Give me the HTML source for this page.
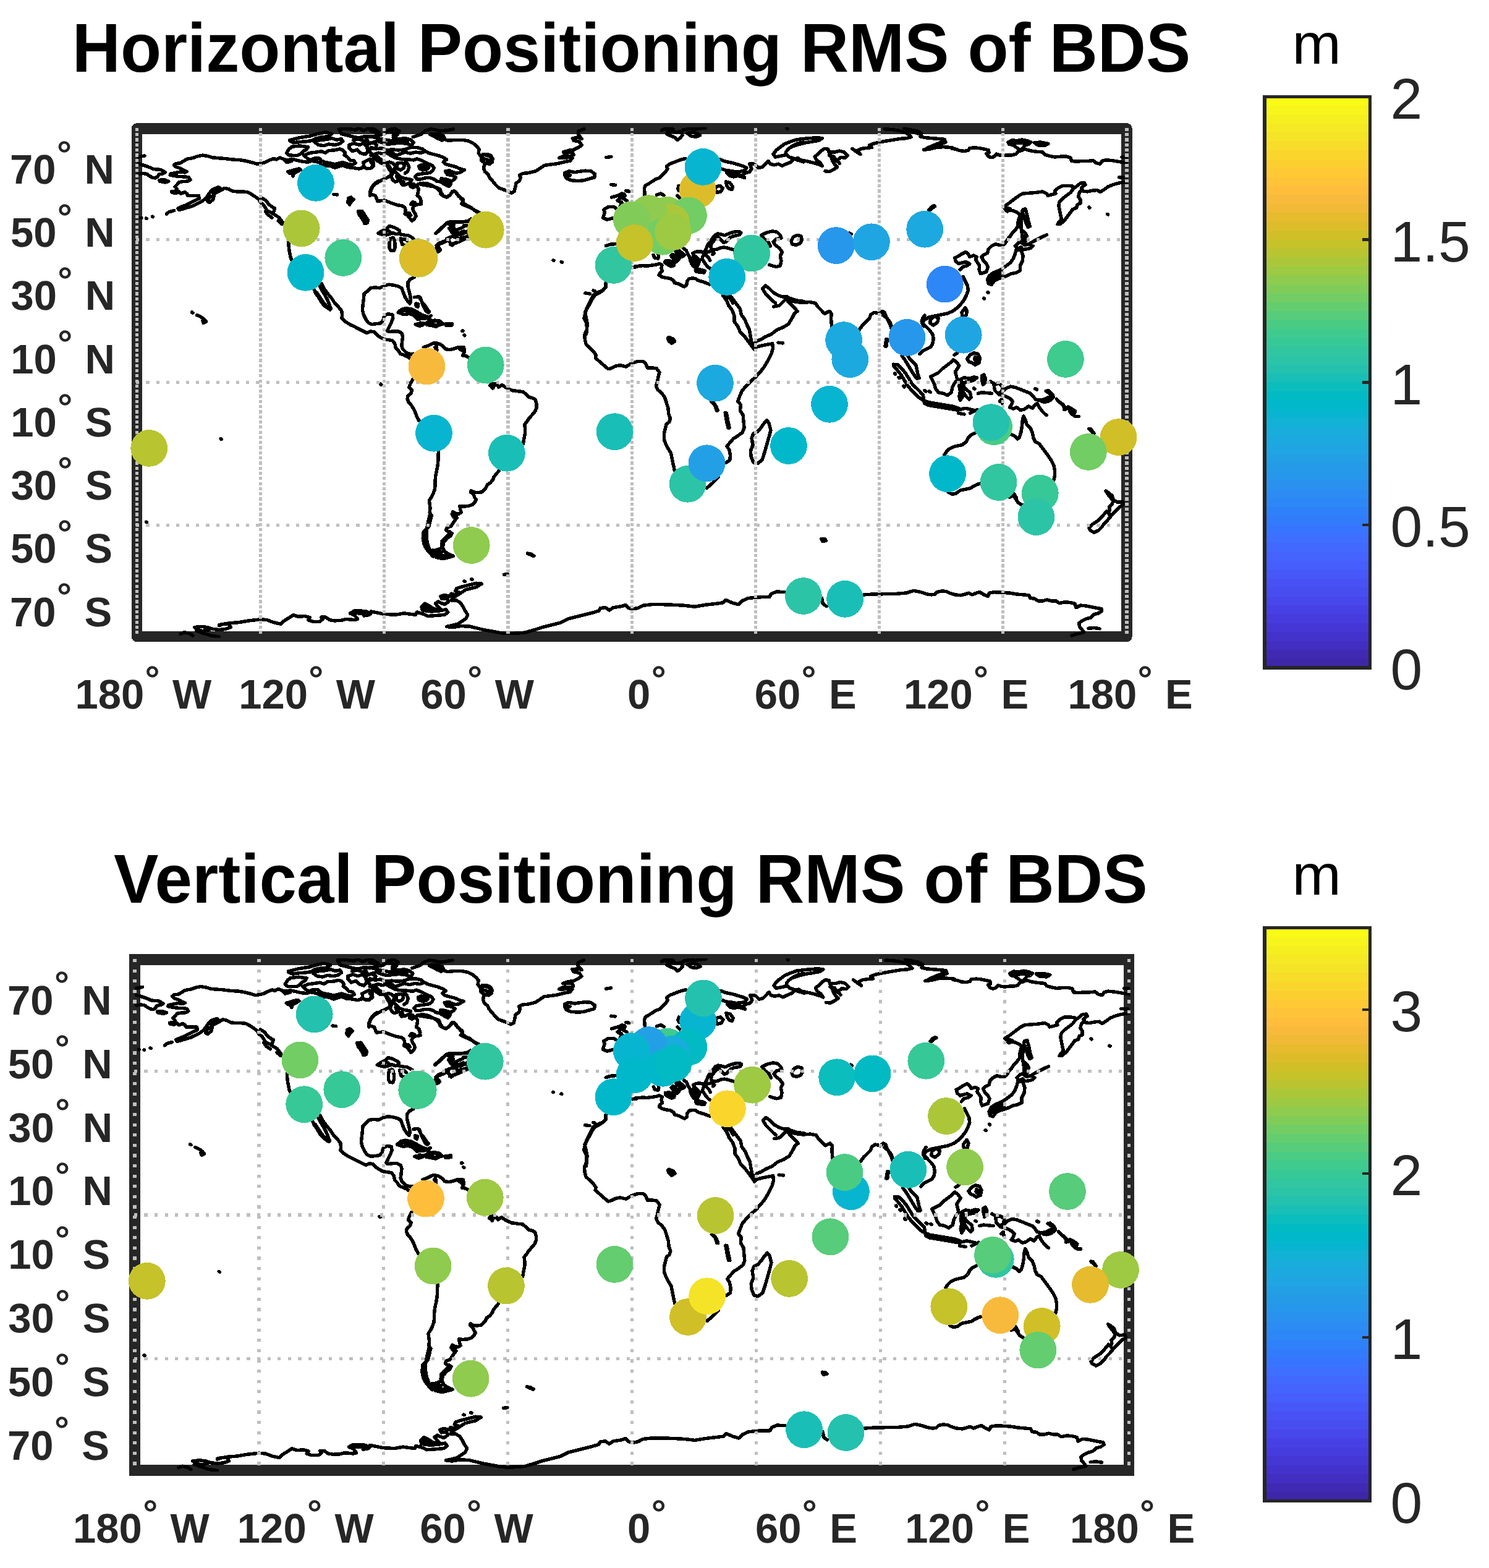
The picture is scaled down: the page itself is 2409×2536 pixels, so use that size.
<!DOCTYPE html>
<html lang="en"><head><meta charset="utf-8"><title>Positioning RMS of BDS</title>
<style>html,body{margin:0;padding:0;background:#fff}svg{display:block}text{font-family:'Liberation Sans', Arial, Helvetica, sans-serif;white-space:pre}</style></head><body>
<svg xmlns="http://www.w3.org/2000/svg" width="2409" height="2536" viewBox="0 0 2409 2536" shape-rendering="crispEdges" text-rendering="geometricPrecision">
<defs>
<linearGradient id="pg0" x1="0" y1="1" x2="0" y2="0">
<stop offset="0.00000" stop-color="#3e26a8"/><stop offset="0.01562" stop-color="#3e26a8"/>
<stop offset="0.01562" stop-color="#402ab4"/><stop offset="0.03125" stop-color="#402ab4"/>
<stop offset="0.03125" stop-color="#422ec0"/><stop offset="0.04688" stop-color="#422ec0"/>
<stop offset="0.04688" stop-color="#4332cb"/><stop offset="0.06250" stop-color="#4332cb"/>
<stop offset="0.06250" stop-color="#4537d5"/><stop offset="0.07812" stop-color="#4537d5"/>
<stop offset="0.07812" stop-color="#463cde"/><stop offset="0.09375" stop-color="#463cde"/>
<stop offset="0.09375" stop-color="#4741e5"/><stop offset="0.10938" stop-color="#4741e5"/>
<stop offset="0.10938" stop-color="#4747eb"/><stop offset="0.12500" stop-color="#4747eb"/>
<stop offset="0.12500" stop-color="#484df0"/><stop offset="0.14062" stop-color="#484df0"/>
<stop offset="0.14062" stop-color="#4852f4"/><stop offset="0.15625" stop-color="#4852f4"/>
<stop offset="0.15625" stop-color="#4758f8"/><stop offset="0.17188" stop-color="#4758f8"/>
<stop offset="0.17188" stop-color="#465efb"/><stop offset="0.18750" stop-color="#465efb"/>
<stop offset="0.18750" stop-color="#4563fd"/><stop offset="0.20312" stop-color="#4563fd"/>
<stop offset="0.20312" stop-color="#4269fe"/><stop offset="0.21875" stop-color="#4269fe"/>
<stop offset="0.21875" stop-color="#3e6fff"/><stop offset="0.23438" stop-color="#3e6fff"/>
<stop offset="0.23438" stop-color="#3875fe"/><stop offset="0.25000" stop-color="#3875fe"/>
<stop offset="0.25000" stop-color="#327cfc"/><stop offset="0.26562" stop-color="#327cfc"/>
<stop offset="0.26562" stop-color="#2f81fa"/><stop offset="0.28125" stop-color="#2f81fa"/>
<stop offset="0.28125" stop-color="#2e87f7"/><stop offset="0.29688" stop-color="#2e87f7"/>
<stop offset="0.29688" stop-color="#2d8cf3"/><stop offset="0.31250" stop-color="#2d8cf3"/>
<stop offset="0.31250" stop-color="#2b91ef"/><stop offset="0.32812" stop-color="#2b91ef"/>
<stop offset="0.32812" stop-color="#2797eb"/><stop offset="0.34375" stop-color="#2797eb"/>
<stop offset="0.34375" stop-color="#259be8"/><stop offset="0.35938" stop-color="#259be8"/>
<stop offset="0.35938" stop-color="#23a0e5"/><stop offset="0.37500" stop-color="#23a0e5"/>
<stop offset="0.37500" stop-color="#20a5e3"/><stop offset="0.39062" stop-color="#20a5e3"/>
<stop offset="0.39062" stop-color="#1ca9df"/><stop offset="0.40625" stop-color="#1ca9df"/>
<stop offset="0.40625" stop-color="#18addb"/><stop offset="0.42188" stop-color="#18addb"/>
<stop offset="0.42188" stop-color="#12b1d6"/><stop offset="0.43750" stop-color="#12b1d6"/>
<stop offset="0.43750" stop-color="#08b5d0"/><stop offset="0.45312" stop-color="#08b5d0"/>
<stop offset="0.45312" stop-color="#01b8ca"/><stop offset="0.46875" stop-color="#01b8ca"/>
<stop offset="0.46875" stop-color="#02bac3"/><stop offset="0.48438" stop-color="#02bac3"/>
<stop offset="0.48438" stop-color="#0bbdbd"/><stop offset="0.50000" stop-color="#0bbdbd"/>
<stop offset="0.50000" stop-color="#19bfb6"/><stop offset="0.51562" stop-color="#19bfb6"/>
<stop offset="0.51562" stop-color="#24c1ae"/><stop offset="0.53125" stop-color="#24c1ae"/>
<stop offset="0.53125" stop-color="#2cc4a7"/><stop offset="0.54688" stop-color="#2cc4a7"/>
<stop offset="0.54688" stop-color="#31c69f"/><stop offset="0.56250" stop-color="#31c69f"/>
<stop offset="0.56250" stop-color="#37c897"/><stop offset="0.57812" stop-color="#37c897"/>
<stop offset="0.57812" stop-color="#3fca8e"/><stop offset="0.59375" stop-color="#3fca8e"/>
<stop offset="0.59375" stop-color="#4acb84"/><stop offset="0.60938" stop-color="#4acb84"/>
<stop offset="0.60938" stop-color="#57cc7a"/><stop offset="0.62500" stop-color="#57cc7a"/>
<stop offset="0.62500" stop-color="#64cd6f"/><stop offset="0.64062" stop-color="#64cd6f"/>
<stop offset="0.64062" stop-color="#72cd64"/><stop offset="0.65625" stop-color="#72cd64"/>
<stop offset="0.65625" stop-color="#81cc59"/><stop offset="0.67188" stop-color="#81cc59"/>
<stop offset="0.67188" stop-color="#8fcb4e"/><stop offset="0.68750" stop-color="#8fcb4e"/>
<stop offset="0.68750" stop-color="#9dc943"/><stop offset="0.70312" stop-color="#9dc943"/>
<stop offset="0.70312" stop-color="#abc739"/><stop offset="0.71875" stop-color="#abc739"/>
<stop offset="0.71875" stop-color="#b9c431"/><stop offset="0.73438" stop-color="#b9c431"/>
<stop offset="0.73438" stop-color="#c5c22a"/><stop offset="0.75000" stop-color="#c5c22a"/>
<stop offset="0.75000" stop-color="#d1bf27"/><stop offset="0.76562" stop-color="#d1bf27"/>
<stop offset="0.76562" stop-color="#dcbd29"/><stop offset="0.78125" stop-color="#dcbd29"/>
<stop offset="0.78125" stop-color="#e6bb2d"/><stop offset="0.79688" stop-color="#e6bb2d"/>
<stop offset="0.79688" stop-color="#f0ba36"/><stop offset="0.81250" stop-color="#f0ba36"/>
<stop offset="0.81250" stop-color="#f8ba3d"/><stop offset="0.82812" stop-color="#f8ba3d"/>
<stop offset="0.82812" stop-color="#febe3c"/><stop offset="0.84375" stop-color="#febe3c"/>
<stop offset="0.84375" stop-color="#fec338"/><stop offset="0.85938" stop-color="#fec338"/>
<stop offset="0.85938" stop-color="#fec934"/><stop offset="0.87500" stop-color="#fec934"/>
<stop offset="0.87500" stop-color="#fccf30"/><stop offset="0.89062" stop-color="#fccf30"/>
<stop offset="0.89062" stop-color="#fad62d"/><stop offset="0.90625" stop-color="#fad62d"/>
<stop offset="0.90625" stop-color="#f7dc2a"/><stop offset="0.92188" stop-color="#f7dc2a"/>
<stop offset="0.92188" stop-color="#f5e327"/><stop offset="0.93750" stop-color="#f5e327"/>
<stop offset="0.93750" stop-color="#f5e924"/><stop offset="0.95312" stop-color="#f5e924"/>
<stop offset="0.95312" stop-color="#f6ef20"/><stop offset="0.96875" stop-color="#f6ef20"/>
<stop offset="0.96875" stop-color="#f7f51b"/><stop offset="0.98438" stop-color="#f7f51b"/>
<stop offset="0.98438" stop-color="#f9fb15"/><stop offset="1.00000" stop-color="#f9fb15"/>
</linearGradient>
<linearGradient id="pg1" x1="0" y1="1" x2="0" y2="0">
<stop offset="0.00000" stop-color="#3e26a8"/><stop offset="0.01562" stop-color="#3e26a8"/>
<stop offset="0.01562" stop-color="#402ab4"/><stop offset="0.03125" stop-color="#402ab4"/>
<stop offset="0.03125" stop-color="#422ec0"/><stop offset="0.04688" stop-color="#422ec0"/>
<stop offset="0.04688" stop-color="#4332cb"/><stop offset="0.06250" stop-color="#4332cb"/>
<stop offset="0.06250" stop-color="#4537d5"/><stop offset="0.07812" stop-color="#4537d5"/>
<stop offset="0.07812" stop-color="#463cde"/><stop offset="0.09375" stop-color="#463cde"/>
<stop offset="0.09375" stop-color="#4741e5"/><stop offset="0.10938" stop-color="#4741e5"/>
<stop offset="0.10938" stop-color="#4747eb"/><stop offset="0.12500" stop-color="#4747eb"/>
<stop offset="0.12500" stop-color="#484df0"/><stop offset="0.14062" stop-color="#484df0"/>
<stop offset="0.14062" stop-color="#4852f4"/><stop offset="0.15625" stop-color="#4852f4"/>
<stop offset="0.15625" stop-color="#4758f8"/><stop offset="0.17188" stop-color="#4758f8"/>
<stop offset="0.17188" stop-color="#465efb"/><stop offset="0.18750" stop-color="#465efb"/>
<stop offset="0.18750" stop-color="#4563fd"/><stop offset="0.20312" stop-color="#4563fd"/>
<stop offset="0.20312" stop-color="#4269fe"/><stop offset="0.21875" stop-color="#4269fe"/>
<stop offset="0.21875" stop-color="#3e6fff"/><stop offset="0.23438" stop-color="#3e6fff"/>
<stop offset="0.23438" stop-color="#3875fe"/><stop offset="0.25000" stop-color="#3875fe"/>
<stop offset="0.25000" stop-color="#327cfc"/><stop offset="0.26562" stop-color="#327cfc"/>
<stop offset="0.26562" stop-color="#2f81fa"/><stop offset="0.28125" stop-color="#2f81fa"/>
<stop offset="0.28125" stop-color="#2e87f7"/><stop offset="0.29688" stop-color="#2e87f7"/>
<stop offset="0.29688" stop-color="#2d8cf3"/><stop offset="0.31250" stop-color="#2d8cf3"/>
<stop offset="0.31250" stop-color="#2b91ef"/><stop offset="0.32812" stop-color="#2b91ef"/>
<stop offset="0.32812" stop-color="#2797eb"/><stop offset="0.34375" stop-color="#2797eb"/>
<stop offset="0.34375" stop-color="#259be8"/><stop offset="0.35938" stop-color="#259be8"/>
<stop offset="0.35938" stop-color="#23a0e5"/><stop offset="0.37500" stop-color="#23a0e5"/>
<stop offset="0.37500" stop-color="#20a5e3"/><stop offset="0.39062" stop-color="#20a5e3"/>
<stop offset="0.39062" stop-color="#1ca9df"/><stop offset="0.40625" stop-color="#1ca9df"/>
<stop offset="0.40625" stop-color="#18addb"/><stop offset="0.42188" stop-color="#18addb"/>
<stop offset="0.42188" stop-color="#12b1d6"/><stop offset="0.43750" stop-color="#12b1d6"/>
<stop offset="0.43750" stop-color="#08b5d0"/><stop offset="0.45312" stop-color="#08b5d0"/>
<stop offset="0.45312" stop-color="#01b8ca"/><stop offset="0.46875" stop-color="#01b8ca"/>
<stop offset="0.46875" stop-color="#02bac3"/><stop offset="0.48438" stop-color="#02bac3"/>
<stop offset="0.48438" stop-color="#0bbdbd"/><stop offset="0.50000" stop-color="#0bbdbd"/>
<stop offset="0.50000" stop-color="#19bfb6"/><stop offset="0.51562" stop-color="#19bfb6"/>
<stop offset="0.51562" stop-color="#24c1ae"/><stop offset="0.53125" stop-color="#24c1ae"/>
<stop offset="0.53125" stop-color="#2cc4a7"/><stop offset="0.54688" stop-color="#2cc4a7"/>
<stop offset="0.54688" stop-color="#31c69f"/><stop offset="0.56250" stop-color="#31c69f"/>
<stop offset="0.56250" stop-color="#37c897"/><stop offset="0.57812" stop-color="#37c897"/>
<stop offset="0.57812" stop-color="#3fca8e"/><stop offset="0.59375" stop-color="#3fca8e"/>
<stop offset="0.59375" stop-color="#4acb84"/><stop offset="0.60938" stop-color="#4acb84"/>
<stop offset="0.60938" stop-color="#57cc7a"/><stop offset="0.62500" stop-color="#57cc7a"/>
<stop offset="0.62500" stop-color="#64cd6f"/><stop offset="0.64062" stop-color="#64cd6f"/>
<stop offset="0.64062" stop-color="#72cd64"/><stop offset="0.65625" stop-color="#72cd64"/>
<stop offset="0.65625" stop-color="#81cc59"/><stop offset="0.67188" stop-color="#81cc59"/>
<stop offset="0.67188" stop-color="#8fcb4e"/><stop offset="0.68750" stop-color="#8fcb4e"/>
<stop offset="0.68750" stop-color="#9dc943"/><stop offset="0.70312" stop-color="#9dc943"/>
<stop offset="0.70312" stop-color="#abc739"/><stop offset="0.71875" stop-color="#abc739"/>
<stop offset="0.71875" stop-color="#b9c431"/><stop offset="0.73438" stop-color="#b9c431"/>
<stop offset="0.73438" stop-color="#c5c22a"/><stop offset="0.75000" stop-color="#c5c22a"/>
<stop offset="0.75000" stop-color="#d1bf27"/><stop offset="0.76562" stop-color="#d1bf27"/>
<stop offset="0.76562" stop-color="#dcbd29"/><stop offset="0.78125" stop-color="#dcbd29"/>
<stop offset="0.78125" stop-color="#e6bb2d"/><stop offset="0.79688" stop-color="#e6bb2d"/>
<stop offset="0.79688" stop-color="#f0ba36"/><stop offset="0.81250" stop-color="#f0ba36"/>
<stop offset="0.81250" stop-color="#f8ba3d"/><stop offset="0.82812" stop-color="#f8ba3d"/>
<stop offset="0.82812" stop-color="#febe3c"/><stop offset="0.84375" stop-color="#febe3c"/>
<stop offset="0.84375" stop-color="#fec338"/><stop offset="0.85938" stop-color="#fec338"/>
<stop offset="0.85938" stop-color="#fec934"/><stop offset="0.87500" stop-color="#fec934"/>
<stop offset="0.87500" stop-color="#fccf30"/><stop offset="0.89062" stop-color="#fccf30"/>
<stop offset="0.89062" stop-color="#fad62d"/><stop offset="0.90625" stop-color="#fad62d"/>
<stop offset="0.90625" stop-color="#f7dc2a"/><stop offset="0.92188" stop-color="#f7dc2a"/>
<stop offset="0.92188" stop-color="#f5e327"/><stop offset="0.93750" stop-color="#f5e327"/>
<stop offset="0.93750" stop-color="#f5e924"/><stop offset="0.95312" stop-color="#f5e924"/>
<stop offset="0.95312" stop-color="#f6ef20"/><stop offset="0.96875" stop-color="#f6ef20"/>
<stop offset="0.96875" stop-color="#f7f51b"/><stop offset="0.98438" stop-color="#f7f51b"/>
<stop offset="0.98438" stop-color="#f9fb15"/><stop offset="1.00000" stop-color="#f9fb15"/>
</linearGradient>
</defs>
<rect width="2409" height="2536" fill="#fff"/>
<g id="map1">
<rect x="221.45" y="207.85" width="1601.55" height="821.65" fill="#fff" stroke="#262626" stroke-width="17.40" stroke-linejoin="round"/>
<clipPath id="clip0"><rect x="219.45" y="205.85" width="1605.55" height="825.65"/></clipPath>
<path clip-path="url(#clip0)" d="M224.0,264.8L234.4,267.9L242.4,270.8L248.0,273.5L254.4,274.0L260.0,274.4L265.6,277.6L267.2,278.8L263.2,280.8L256.8,282.0L255.2,285.5L251.2,287.9L246.4,287.2L241.6,284.4L237.6,281.5L232.0,280.5L224.0,281.5 M224.0,254.0L229.6,252.7L233.9,252.0 M257.9,291.4L265.6,290.7L272.8,293.3L267.2,294.9L258.8,293.3L257.9,291.4 M471.9,260.4L463.9,262.8L459.1,257.5L452.7,255.1L447.1,258.0L443.1,256.4L436.7,258.8L428.7,262.8L421.5,264.4L415.9,265.2L407.9,262.8L398.3,260.4L388.7,258.8L375.9,258.0L363.1,256.4L351.9,255.6L343.9,254.8L335.9,252.4L327.9,251.2L319.9,252.7L311.9,255.6L302.3,257.2L295.9,261.2L291.2,263.9L284.8,264.4L281.6,266.8L284.8,270.0L292.0,272.4L297.5,275.6L302.3,277.6L299.1,278.9L291.2,278.0L283.2,279.6L276.0,281.2L275.2,283.1L281.6,284.4L289.6,285.6L299.1,285.9L305.5,286.9L307.9,290.7L303.9,293.1L295.9,293.6L289.6,294.7L286.4,298.7L283.2,301.9L286.4,305.9L284.0,309.1L277.6,309.6L278.4,311.5L284.8,312.3L289.6,309.9L292.8,313.1L299.1,310.7L302.3,313.1L303.9,316.3L311.9,316.3L321.5,316.3L322.3,321.1L318.3,322.7L311.9,325.9L305.5,329.1L299.1,332.3L292.8,334.7L288.0,337.1L289.6,339.5L295.9,337.9L303.9,335.5L311.9,333.1L318.3,329.9L326.3,325.9L332.7,321.1L336.7,315.5L340.7,309.9L345.5,305.5L353.5,302.7L355.9,304.3L350.3,309.1L344.7,312.8L348.7,312.3L356.7,308.3L363.1,304.3L369.5,305.5L375.9,309.1L383.9,309.9L391.9,309.9L400.7,310.7L406.3,313.9L412.7,317.9L419.1,322.7L421.5,327.5L427.1,332.3L431.9,340.3L438.3,343.5L444.7,347.5L451.1,351.5L455.9,357.9L459.9,363.5 M335.9,325.9L339.1,318.7L346.3,316.3L344.7,322.7L339.1,327.5L335.9,325.9 M423.9,320.3L430.3,324.3L435.1,330.7L441.5,335.5L444.7,337.1L443.1,341.9 M429.5,341.9L433.5,347.5L439.9,351.8 M450.3,357.1L455.9,362.4 M466.7,391.5L467.4,401.1L468.7,409.1L470.3,417.1L472.2,421.1 M269.6,345.9L273.6,342.7L281.6,340.6 M228.0,352.3L228.8,352.6 M236.5,353.1L237.1,353.4 M246.4,350.2L247.3,350.7 M460.0,258.0L466.4,258.9L471.5,257.2L479.2,258.9L488.1,261.0L498.4,262.3L504.1,260.0L511.2,261.5L516.9,262.8L520.1,266.1L526.5,267.9L534.2,268.4L541.9,271.5L548.3,269.2L554.7,267.6L562.3,270.5L570.0,271.2L580.3,273.0L586.0,271.7L588.6,267.4L587.9,262.5 M587.9,262.5L593.0,260.0L598.8,257.2L603.9,261.9L604.6,268.3L599.4,272.5L593.0,272.8L588.6,269.6 M492.0,251.3L500.9,247.4L511.2,246.1L520.1,244.9L526.5,247.2L531.6,243.6L541.9,242.8L549.6,241.0L554.7,242.7L558.5,247.2L557.2,251.0L562.3,254.2L566.2,258.9L572.6,260.0L575.1,263.8L570.0,266.4L562.3,265.1L554.7,262.5L549.6,263.8L541.9,265.7L534.2,263.8L526.5,262.5L520.1,260.0L516.3,256.1L508.6,256.1L502.2,258.7L497.1,256.1L492.0,251.3 M463.8,247.2L467.7,241.0L472.8,237.2L485.6,235.9L498.4,237.7L495.8,242.1L490.7,244.4L486.9,248.7L481.7,251.3L474.1,251.3L467.7,251.0L463.8,247.2 M469.0,226.7L485.6,222.5L502.2,219.9L513.7,216.5L526.5,213.9L536.8,216.5L531.6,220.9L521.4,221.6L511.2,223.9L504.8,227.5L495.8,228.8L485.6,229.5L475.4,230.8L469.0,228.0L469.0,226.7 M508.6,229.5L516.3,226.7L529.1,225.4L536.8,223.5L544.4,226.1L552.1,224.8L554.7,228.6L549.6,232.5L541.9,234.4L531.6,233.1L524.0,235.7L515.0,234.4L508.6,229.5 M548.3,208.8L562.3,208.2L575.1,210.1L580.3,206.9L587.9,211.4L599.4,206.2L607.1,210.1L613.5,213.9L611.0,219.0L600.7,221.6L590.5,220.3L581.5,222.9L572.6,221.6L562.3,219.0L552.1,216.5L548.3,208.8 M564.9,234.4L572.6,231.8L581.5,234.4L587.9,231.8L593.0,236.9L595.6,244.6L590.5,249.7L582.8,247.2L577.7,242.1L570.0,244.6L564.9,239.5L564.9,234.4 M571.3,226.7L580.3,224.8L589.2,228.0L595.6,233.1L603.3,230.5L609.7,234.4L607.1,239.5L600.7,240.8 M591.8,222.9L595.6,229.3L594.3,236.9L596.9,244.6L602.0,249.7L607.1,253.6L612.2,257.4L617.4,260.0 M465.8,277.9L474.1,275.3L483.7,272.8L486.2,274.3L480.5,277.9L475.4,280.4L474.1,284.9L472.8,281.1L467.7,279.8L465.8,277.9 M608.4,251.0L613.5,256.1L621.2,261.2L626.3,265.1L631.4,271.5L634.0,277.9L631.4,284.3L625.0,288.1L618.6,290.7L612.2,294.5L605.8,298.3L602.0,303.5L599.4,309.9L598.8,316.3 M697.7,218.0L704.3,220.8L711.7,220.8L717.3,224.5L724.8,227.3L736.0,226.4L749.0,226.4L758.4,228.2L765.8,232.0L771.4,236.6L775.1,241.3L774.2,247.8L777.0,251.6L784.5,250.6L791.9,252.5L795.7,257.2L793.8,261.8L788.2,263.7L783.5,266.5L782.6,272.1L784.5,277.7L790.1,282.4L791.9,287.0L797.5,293.5L801.3,298.2L806.9,303.8L814.3,306.6L822.0,309.4L827.4,312.2L832.1,309.4L833.9,301.9L834.9,296.3L840.4,292.6L842.3,287.0L840.4,283.3L846.0,280.5L855.4,279.6L866.6,276.8L874.0,272.1L880.6,267.4L890.8,266.1L902.0,264.6L913.2,261.8L922.5,260.0L926.3,255.3L920.7,254.4L911.3,255.7L904.8,255.3L913.2,251.6L922.5,252.5L928.1,250.6L926.3,246.0L918.8,246.0L911.3,246.0L920.7,243.2L928.1,242.2L935.6,238.5L941.2,234.8L937.5,229.2L928.1,227.3L926.3,223.6L935.6,222.6L941.2,224.5L935.6,218.0L935.6,212.4L944.9,208.7 M777.0,251.6L780.7,256.2L788.2,258.1L793.8,261.8 M914.1,279.6L920.7,276.8L930.0,278.6L937.5,277.3L946.8,276.2L956.1,276.8L962.6,281.4L961.7,287.0L954.3,288.9L944.9,291.7L935.6,292.6L924.4,291.7L916.9,288.9L914.1,284.2L914.1,279.6 M915.1,281.4L922.5,283.3L917.9,286.1 M980.7,254.7L988.8,253.4 M988.8,298.6L995.3,299.3 M1015.8,308.7L1016.4,309.0 M989.7,319.1L997.2,316.9L1004.6,315.0L1010.2,314.1L1008.4,318.7L1002.8,320.6L999.0,324.3L1005.6,327.1 M997.2,350.4L991.6,352.7L982.2,355.3L975.7,352.3L978.5,343.0L976.6,339.3L984.1,334.6L993.4,334.6L997.2,337.4 M980.4,397.5L987.8,395.2L997.2,394.5 M1023.3,432.5L1030.0,431.6 M980.4,458.7L980.7,464.3L974.8,469.9L965.4,473.6L959.9,477.3L956.1,484.8L952.4,492.2L948.7,499.7L946.8,507.2L944.9,514.6L948.7,522.1L949.6,531.4L948.7,540.0 M946.8,474.0L954.3,475.1 M959.9,469.9L962.1,470.6 M895.1,421.0L896.0,421.3 M908.2,423.8L909.3,424.1 M680.0,298.2L691.2,300.1L702.4,301.9L711.7,305.7L713.6,311.3L717.3,316.9L722.9,318.7L728.5,315.0L732.2,309.4L736.0,309.4L741.6,316.9L749.0,322.5L749.0,328.1L754.6,331.8L762.1,335.5L767.7,340.2L774.2,344.5 M680.0,320.6L681.5,329.9 M705.2,377.5L711.7,371.9L717.3,366.3L722.9,360.7L736.0,359.8L749.0,358.8L758.4,357.0L762.1,354.2 M726.6,369.1L734.1,367.2L736.0,374.7L743.4,376.6L750.9,373.8L756.5,376.6 M722.9,385.9L732.2,382.2L741.6,385.9L750.9,384.0L756.5,382.2 M728.5,395.2L736.0,393.4L745.3,387.8L754.6,384.0 M708.0,407.4L709.9,404.6L706.1,400.8L709.9,395.2L719.2,391.5L726.6,387.8 M680.0,481.0L683.7,492.2L689.3,503.4L693.1,505.7 M680.0,512.8L691.2,514.6L698.7,518.4L709.9,520.2L717.3,524.0L704.3,525.8L691.2,524.0L680.0,522.1 M721.4,524.0L730.4,525.1 M747.7,535.1L748.7,535.5 M520.1,458.4L524.8,467.7L530.4,475.1L536.0,481.7L541.6,490.1L547.2,495.7L552.8,503.1L553.7,510.6L552.8,514.3L558.4,519.9L565.8,524.6L573.3,528.3L580.7,532.1L588.2,535.8L593.8,538.6L599.4,535.8L605.0,536.7L610.6,542.3L616.2,546.0L621.8,548.8L629.3,549.8L634.9,550.7L638.6,555.4L640.4,562.8L644.2,566.6L647.9,572.2L655.4,575.0L661.0,577.8L664.7,581.1 M508.0,467.7L510.8,474.2L515.4,480.7L521.0,490.1L526.6,495.7L534.1,500.9L535.4,499.4L533.2,493.8L530.4,486.3L526.6,478.9L522.0,471.4L517.3,463.0 M512.6,473.3L518.2,481.7L523.8,490.1L529.4,496.6 M670.3,448.1L663.8,451.8L660.0,456.5L660.0,464.0L661.9,471.4L663.8,478.9L664.7,486.3L663.2,491.0L659.1,486.3L655.4,480.7L652.6,473.3L649.8,465.8L644.2,463.0L636.7,461.2L629.3,460.2L621.8,462.1L614.3,465.8L606.9,464.9L599.4,465.8L593.8,471.4L589.1,475.1L588.2,484.5L587.3,491.9L586.3,501.3L588.2,508.7L591.9,516.2L595.7,521.8L601.3,524.6L608.7,523.7L616.2,522.7L619.9,518.1L621.8,510.6L627.4,507.8L634.9,508.7L635.8,514.3L633.0,521.8L629.3,529.3L626.5,534.9L629.3,536.7L636.7,535.8L644.2,535.8L649.8,538.6L651.6,544.2L650.7,551.6L649.8,559.1L651.6,564.7L657.2,570.3L664.7,573.1L668.8,572.2 M670.3,480.7L677.8,479.8L680.6,484.5L683.4,490.1L687.1,493.8L690.8,499.4L694.6,504.1 M673.1,491.0L676.8,491.9L675.9,496.6L673.1,494.7L673.1,491.0 M644.2,505.4L649.8,500.3L657.2,498.5L666.6,500.3L674.0,504.1L681.5,508.7L689.0,511.5L694.6,513.4L697.4,510.6L690.8,514.7L683.4,515.4L675.9,516.2L670.3,510.6L662.8,507.2L653.5,508.7L644.2,505.4 M647.9,503.5L657.2,502.2L666.6,504.1L674.0,508.7L681.5,512.1 M672.2,524.6L678.7,523.3L685.2,525.1L678.7,527.4L672.2,524.6 M690.8,521.8L696.4,519.0L703.9,518.1L711.3,519.0L716.9,523.7L711.3,525.5L705.7,528.3L698.3,526.5L690.8,525.5L690.8,521.8 M692.7,523.7L700.1,522.7L701.1,524.6 M722.0,523.7L730.9,523.3L730.9,525.9L722.0,526.3L722.0,523.7 M748.3,534.9L749.0,535.4 M751.1,541.9L751.8,542.7 M685.2,561.9L692.7,559.1L700.1,555.4L703.9,554.4L711.3,556.3L716.9,560.0L720.7,564.7L728.1,565.6L735.6,563.8L740.3,561.9L750.5,561.9L751.5,568.4L748.7,575.0L754.3,575.9L758.4,578.1 M740.3,561.9L746.8,566.6L751.5,568.4 M705.7,558.2L706.9,566.6L703.9,561.9 M793.4,622.5L797.2,628.1L800.0,622.5L804.6,622.5L806.5,626.3L812.1,622.5L817.7,626.3L825.1,630.0L830.0,631.9 M792.5,623.5L795.3,620.7L800.9,620.3 M667.5,614.1L663.8,620.7L661.9,626.3L666.6,630.9L664.7,636.5L660.0,640.3L659.1,644.9L661.0,650.5L664.7,654.3L668.4,659.9L671.2,665.4L674.0,672.9L678.1,680.7 M615.8,621.2L616.8,622.2 M612.1,292.8L606.5,296.9L601.7,302.5L598.9,309.4L598.9,313.6L602.4,314.9L607.2,316.3L609.3,321.2L610.7,325.3L617.6,324.6L621.8,324.0L627.3,326.0L634.2,328.8L642.6,331.6L650.9,333.0L655.0,335.7L656.4,341.3L655.0,346.1L659.2,348.2L662.7,352.4L666.1,357.2L669.6,355.1L673.0,349.6L671.7,345.4L668.9,341.3L667.5,337.1L669.6,333.0L674.4,330.9L680.0,330.2L681.4,324.6L678.6,319.1L675.1,316.3L676.5,310.8L677.2,305.2L674.4,301.1L676.5,297.6L684.1,296.2L691.1,296.9L696.6,299.0L702.2,301.8L707.7,305.2L711.9,309.4L713.2,314.3L718.8,317.7L722.9,319.1L727.1,316.3L731.3,311.5L734.7,308.7L738.2,311.5L742.3,317.0L746.5,321.9L749.3,325.3L746.5,329.5L752.0,332.3L759.0,335.0L764.5,337.8L770.1,341.3L775.6,343.8 M664.7,330.2L667.5,326.7L671.7,328.1L668.9,331.6L664.7,330.2 M657.8,345.4L662.0,344.7L664.7,348.2 M649.5,296.2L655.0,299.0 M664.0,298.6L668.9,302.2 M540.0,314.3L545.5,314.9 M563.6,320.8L567.7,319.1L571.9,322.6L568.4,326.7L565.6,330.9L562.9,327.4L563.6,320.8 M565.6,323.3L567.7,322.6L566.3,327.4 M579.5,342.0L585.7,341.3L588.5,345.4L592.0,351.0L595.4,355.8L594.1,360.7L589.9,361.4L587.8,356.5L585.0,352.4L581.6,348.2L579.5,342.0 M583.0,344.1L587.8,349.6L591.3,356.5 M612.1,377.3L617.6,373.8L624.5,370.4L630.1,365.5L637.0,367.6L642.6,370.4L646.7,373.2L646.7,377.3L641.2,378.7L635.6,376.6L630.1,378.7L624.5,380.1L619.0,379.4L612.1,377.3 M623.2,374.5L628.7,373.2L631.5,375.9 M631.5,385.6L630.1,392.6L630.1,400.9L632.2,405.0L637.0,405.7L639.1,400.9L639.1,393.9L637.7,387.0L635.6,384.2 M646.7,378.7L653.6,380.1L660.6,380.8L664.7,382.9L668.9,385.9 M648.1,385.6L649.5,391.2L650.9,395.3L655.7,397.0 M650.9,387.0L656.4,387.0L659.2,389.8 M704.9,377.3L710.5,371.8L716.0,366.9L721.6,362.1L725.7,359.3L734.0,358.6L742.3,359.0L750.7,358.6L757.9,357.9 M725.7,362.1L731.3,364.8L734.0,363.5L732.6,368.3L728.5,371.8L731.3,375.9L736.8,373.2L742.3,370.4L749.3,367.6L750.7,364.8L756.2,364.8 M734.0,378.7L739.6,380.1L747.9,378.7L753.4,375.9L757.6,373.2 M707.0,405.0L709.1,407.1L712.5,404.3L710.5,400.9L706.3,397.0L710.5,393.3L717.4,390.5L724.3,388.4L728.5,392.6L731.3,396.7L735.4,393.9L742.3,391.2L750.7,387.0L757.6,384.2 M709.6,730.3L708.8,737.5L708.8,745.5L708.0,753.5L706.4,761.5L704.8,769.5L704.0,777.5L704.0,785.5L703.2,791.9L700.8,798.3L697.6,804.7L694.4,809.5L695.2,815.9L696.0,822.3L695.2,828.7L697.6,833.5L696.8,839.9L695.2,846.3L693.6,851.9L689.6,855.9L686.4,859.1L687.2,865.5L685.6,871.9L687.2,878.3L688.0,884.6L691.2,889.4L695.2,894.2L700.8,900.0 M696.0,830.3L693.6,839.9L691.5,849.5L689.9,859.1L689.9,868.7L691.5,878.3L694.7,887.8L699.5,895.8 M698.4,833.5L695.2,843.1L692.8,852.7 M828.7,631.2L838.3,632.8L846.3,633.6L851.1,637.6L855.9,642.4L862.3,644.0L866.3,646.4L867.9,652.8L867.9,660.0L865.5,665.6L860.7,671.2L855.9,676.8L852.7,681.6L848.7,686.4L849.5,692.8L849.5,700.7L847.9,708.7L846.3,718.0 M807.1,761.5L803.1,766.3L799.1,771.1L797.5,775.9L793.5,780.7L788.7,783.9L786.3,788.7L782.3,793.5L779.1,795.9L772.7,796.7L766.3,795.9L762.3,793.5L761.5,795.9L766.3,799.9L767.9,804.7L770.3,807.9L767.9,812.7L764.7,815.9L758.3,818.3L750.3,819.1L743.9,818.3L744.7,823.9L746.3,828.7L742.3,831.1L737.5,830.3L732.8,827.9L731.2,831.9L734.4,836.7L739.1,837.5L735.9,841.5L732.8,846.3L729.6,851.1L723.2,853.5L721.6,857.5L726.4,860.7L731.2,862.3L728.8,867.1L723.2,870.3L720.0,875.1L715.2,877.5L714.4,882.3L716.8,886.2L718.4,891.0L723.2,895.8L729.6,899.4 M733.6,830.3L738.3,833.5L735.1,835.9 M697.6,894.2L704.0,890.2L710.4,887.8L715.2,886.2 M700.8,897.4L708.8,893.4L715.2,892.6 M853.5,895.0L859.1,896.2L863.9,899.0 M685.3,860.0L684.2,870.7L686.4,881.3L691.7,889.9L698.1,896.2L706.6,901.6L716.2,903.7L725.8,901.6L733.3,899.4L725.8,896.2L719.4,892.0L716.2,885.6L717.3,879.2L715.1,874.9L721.5,868.5L725.8,864.3L727.9,860.0 M688.5,872.8L690.6,883.5L695.9,892.0L704.5,897.3L713.0,898.4L721.5,899.4 M700.2,889.9L708.7,892.0L714.1,897.3L706.6,899.4L700.2,889.9 M853.7,895.2L863.3,899.4 M815.4,929.3L821.7,928.7 M751.0,940.0L752.2,940.4 M762.7,936.8L764.0,937.2 M779.1,944.2L770.6,943.2L762.0,945.3L753.5,947.4L745.0,949.6L738.6,951.7L736.5,955.9L742.9,958.1L736.5,962.3L730.1,960.2L727.9,964.5L719.4,962.3L713.0,964.5L715.1,968.7L723.7,967.7L725.8,973.0L719.4,977.3L713.0,975.1L708.7,973.0L704.5,976.2L708.7,981.5L713.0,985.8L706.6,985.8L700.2,983.7L693.8,979.4L687.4,976.2L682.1,981.5L683.2,986.9L689.6,987.9L698.1,989.0L710.9,987.9L721.5,985.8L724.7,990.1L719.4,994.3L706.6,995.4L691.7,996.5L685.3,993.3L674.6,990.1L672.5,994.3L664.0,993.3L653.3,991.8L640.5,994.3L621.3,993.3L610.7,991.1L600.0,989.0 M779.1,944.2L770.6,949.6L762.0,951.7L753.5,953.8L747.1,958.1L738.6,963.4L732.2,966.6L730.1,970.9L738.6,970.9L745.0,975.1L749.3,981.5L752.5,987.9L756.7,994.3L753.5,1000.7L747.1,1005.0L740.7,1009.3L732.2,1011.4L722.6,1013.5L732.2,1014.6L745.0,1012.5L759.9,1013.1L770.6,1015.7L783.4,1018.8L796.2,1021.0L811.1,1023.8L822.0,1024.6L834.5,1024.2L849.5,1023.1L864.4,1018.8L877.2,1014.6L894.2,1010.3L907.0,1007.1L919.8,1000.7L932.6,997.5L945.4,994.3L958.2,991.1L968.9,987.9L971.0,983.7L979.5,982.6L985.9,986.9L992.3,982.6L1000.0,981.5 M684.2,979.4L691.7,982.6L700.2,985.8L691.7,985.8L684.2,983.7 M1070.4,210.8L1076.8,207.6L1086.4,206.8L1089.6,210.0L1083.2,214.0L1078.4,216.4L1084.8,219.6L1091.2,222.0L1095.9,226.5L1100.7,222.8L1103.9,218.8L1102.3,214.0L1105.5,210.0L1115.1,208.4L1124.7,209.2L1134.3,207.6L1141.5,206.8 M1111.9,215.6L1118.3,220.4L1126.3,221.2L1132.7,218.8L1127.9,215.6L1119.9,214.0L1111.9,215.6 M1073.6,209.2L1083.2,210.8L1092.8,214.0L1102.3,212.4 M1273.1,207.3L1274.1,208.2 M1300.0,224.4L1287.8,226.0L1278.3,229.2L1268.7,233.2L1262.3,238.0L1255.9,242.8L1251.1,249.2L1254.3,254.0L1262.3,252.4L1270.3,250.8L1271.9,245.2L1275.1,241.2L1281.5,236.4L1291.0,231.6L1300.0,230.0 M1271.9,249.2L1276.7,254.0L1283.1,255.6L1289.4,258.8L1295.8,260.4 M1046.4,319.9L1043.2,317.9L1043.2,314.7L1042.4,305.1L1044.0,300.3L1049.6,297.1L1054.4,293.9L1060.8,289.9L1067.2,287.5L1072.0,282.8L1076.8,278.0L1080.0,273.2L1078.4,269.2L1083.2,265.2L1089.6,262.8L1095.9,260.4L1102.3,258.0L1109.1,256.4 M1165.5,258.0L1171.1,260.4L1177.5,262.0L1185.5,263.6L1193.5,266.0L1201.5,268.4L1207.9,271.6L1204.7,275.6L1198.3,277.2L1190.3,278.0L1182.3,276.4L1174.3,275.6L1167.9,273.2 M1175.9,279.6L1180.7,284.4L1187.1,285.9L1193.5,284.4L1199.9,285.9L1204.7,287.5L1201.5,282.8L1206.3,279.6L1212.7,278.0L1215.9,273.2L1214.3,268.4L1212.7,265.2L1219.1,265.2L1222.4,266.8L1227.1,271.6L1233.5,270.0L1239.9,263.6L1243.1,260.4L1246.3,265.2L1252.7,266.8L1259.1,265.2L1265.5,268.4L1271.9,265.2L1279.9,262.0L1284.6,257.2L1291.0,255.6L1295.8,260.4L1300.0,262.0 M1177.5,281.2L1183.9,282.0L1190.3,281.2L1196.7,282.8 M1097.9,300.3L1096.7,305.1L1098.3,308.7 M1095.9,316.3L1099.1,319.9 M1158.3,301.9L1164.7,300.3L1169.5,304.3L1166.3,309.9L1159.9,311.5L1157.5,306.7L1158.3,301.9 M1174.3,293.9L1180.7,295.5L1185.5,301.9L1183.9,306.7L1179.1,305.1L1175.9,300.3L1174.3,293.9 M1062.4,315.1L1068.8,313.1L1073.9,315.7 M1012.8,308.7L1017.6,309.9 M1000.0,316.3L1006.4,313.1L1011.2,316.3L1008.0,321.1L1014.4,324.6 M1001.6,325.9L1006.4,329.1L1003.2,333.9 M1231.9,380.3L1239.9,376.3L1249.5,373.9L1257.5,375.5L1262.3,380.3L1263.9,385.1L1255.9,386.7L1251.1,391.5L1254.3,396.3L1260.7,401.1L1265.5,407.5L1262.3,413.9L1263.9,421.9L1262.3,429.9L1255.9,431.5L1249.5,429.9L1244.7,428.3 M1231.9,380.3L1236.7,386.7L1243.1,391.5L1246.3,397.9 M1279.9,389.9L1283.1,383.5L1289.4,380.3L1295.8,381.9L1297.4,388.3L1294.2,393.9L1287.8,396.3L1281.5,394.7L1279.9,389.9 M1254.3,490.0L1251.1,487.4L1244.7,481.0L1238.3,474.6L1233.5,466.7L1238.3,461.9L1244.7,466.7L1251.1,473.1L1259.1,477.8L1268.7,481.0L1278.3,482.6L1287.8,485.8L1300.0,487.4 M1169.5,477.8L1174.3,484.2L1177.5,490.0 M1175.9,477.8L1182.3,484.2L1185.5,490.0 M980.1,457.7L980.1,464.3L975.4,469.9L968.0,474.5L962.4,477.3L958.7,482.9L954.9,490.4L950.3,497.8L946.5,505.3L948.4,514.6L950.3,524.0L949.3,533.3L945.6,541.7L946.5,550.1L948.4,557.5L954.9,563.1L960.5,568.7L964.3,574.3L963.3,579.0L969.9,584.6L977.3,591.1L983.8,596.7L988.5,595.8L996.0,592.1L1003.4,590.7L1012.8,593.0L1022.3,587.4L1031.4,584.6L1040.7,584.6L1044.5,587.4L1047.3,594.9L1055.7,594.9L1062.2,595.8L1066.9,602.3L1065.0,609.8L1063.1,618.7L1061.3,624.7L1064.1,630.3L1070.6,635.9L1075.3,642.4L1078.1,650.8L1080.9,660.1L1081.8,669.5L1084.6,676.9L1082.7,682.5L1078.1,686.3L1076.2,693.7L1074.3,701.2L1074.3,710.5L1077.1,718.0L1080.9,725.4L1085.5,732.9L1087.4,742.2L1089.3,751.6L1091.5,761.3 M1171.3,477.3L1175.1,484.8L1178.8,494.1L1184.4,501.6L1188.1,510.9L1188.1,520.2L1193.7,527.7L1197.5,537.0L1204.9,544.5L1210.5,551.9L1216.1,559.4L1219.9,565.0 M1180.7,477.3L1186.3,484.8L1191.9,492.2L1197.5,499.7L1199.3,509.0L1204.9,516.5L1208.7,525.8L1212.4,533.3L1214.3,544.5L1216.1,553.8L1218.0,561.3 M1218.0,561.3L1223.6,551.9L1231.0,549.1L1238.5,544.5L1247.8,540.7L1257.2,533.3L1266.5,529.6L1275.8,524.0L1281.4,514.6L1285.1,507.2L1290.0,503.4 M1251.6,496.0L1260.9,494.1L1266.5,488.5L1272.1,482.9L1275.8,488.5L1281.4,494.1L1287.0,499.7L1290.0,503.4 M1266.5,480.1L1274.0,480.1L1279.6,484.8L1287.0,486.6L1290.0,487.6 M1219.9,565.0L1223.6,561.3L1231.0,559.4L1240.4,557.5L1249.7,555.7L1250.6,563.1L1247.8,572.5L1242.2,583.7L1236.6,593.0L1231.0,600.4L1222.5,609.8L1214.3,617.2L1206.8,624.7L1200.3,632.2L1196.5,641.5L1193.7,649.0L1198.4,654.6L1197.5,663.9L1202.1,671.3L1203.1,682.5L1204.0,691.9L1201.2,699.3L1193.7,704.9L1186.3,709.6L1180.7,716.1L1176.0,721.7L1179.7,727.3L1181.6,736.6L1180.7,744.1L1174.7,748.2 M1162.0,772.1L1152.7,781.4L1143.4,789.3 M1259.0,554.2L1266.5,554.9 M1081.8,545.4L1089.3,548.2L1091.5,551.9L1086.5,555.3L1082.2,551.6L1080.3,547.3L1081.8,545.4 M1084.6,548.2L1087.4,551.9 M1150.8,649.9L1156.4,654.6L1159.2,663.9 M1152.7,649.9L1158.3,656.4L1161.1,663.9 M1173.2,667.6L1175.1,678.8L1177.9,691.9 M1175.4,668.0L1177.3,678.8L1180.1,691.9 M1240.4,679.7L1244.1,684.4L1246.9,695.6L1244.1,706.8L1240.4,719.9L1236.6,732.9L1232.9,744.1L1225.4,749.7L1218.9,747.8L1215.2,738.5L1214.3,729.2L1218.0,719.9L1216.1,708.7L1218.9,701.2L1225.4,698.4L1231.0,691.9L1234.8,686.3L1240.4,679.7 M1298.7,224.5L1309.9,223.6L1321.0,222.6L1330.4,223.6L1324.8,227.3L1313.6,229.2L1302.4,231.0L1291.2,233.8L1280.0,237.6 M1280.0,255.3L1287.5,257.2L1296.8,259.0L1306.1,260.9L1317.3,263.7L1326.6,266.5L1330.4,268.4L1326.6,262.8L1321.0,259.0L1318.2,253.4L1322.9,249.7L1328.5,244.1L1334.1,240.4L1339.7,241.3L1341.6,247.8L1344.4,253.4L1347.2,260.9L1350.9,266.5L1354.6,270.2L1349.0,274.0L1341.6,277.7L1335.0,276.8 M1343.4,246.0L1350.9,246.0L1358.4,244.1L1365.8,246.0L1371.4,251.6L1367.7,255.3L1360.2,254.4L1354.6,259.0L1358.4,264.6 M1341.6,251.6L1349.0,253.4L1353.7,260.9 M1378.9,240.4L1386.3,246.0L1391.9,249.7L1386.3,244.1L1393.8,240.4L1401.3,239.4L1410.6,238.5L1406.9,234.8L1414.3,232.0L1422.5,230.1L1433.0,228.2L1444.2,226.4L1455.4,224.5L1466.6,223.6L1474.0,221.7L1470.3,218.0L1464.7,214.3L1455.4,211.5L1444.2,209.6L1431.1,208.7 M1462.8,207.7L1475.9,210.5L1485.2,212.4L1490.8,216.1L1489.0,220.8L1496.4,222.6L1507.6,223.6L1518.8,224.5L1528.1,225.4L1530.0,230.1L1522.5,232.9L1513.2,235.7L1503.9,239.4L1494.6,242.2L1503.9,241.3L1515.1,238.5L1526.3,237.6L1537.5,238.5L1541.2,238.9 M1528.1,228.2L1513.2,233.8L1500.1,239.4 M1466.6,210.5L1477.8,213.3L1485.2,216.1 M1502.9,339.3L1506.7,335.1L1511.0,332.7 M1504.8,339.6L1509.1,335.9L1512.5,333.7 M1374.2,377.1L1377.0,378.4 M1558.0,447.5L1561.7,454.9L1565.4,462.4L1566.4,469.9L1563.6,477.3L1559.9,484.8L1554.3,492.2L1548.7,497.8L1541.2,503.4L1531.9,507.2L1522.5,509.0L1513.2,510.9L1503.9,512.8L1496.4,516.5L1491.8,522.1L1494.6,527.7 M1556.1,505.3L1561.7,497.8L1564.5,503.4L1561.7,514.6L1558.0,516.5L1556.1,505.3 M1280.0,486.6L1289.3,488.5L1298.7,489.4L1309.9,488.5L1319.2,490.4L1322.9,496.0L1328.5,501.6L1334.1,507.2L1337.8,505.3L1341.6,503.4L1345.3,507.2L1344.4,514.6L1345.3,524.0L1346.2,531.8 M1390.1,533.3L1395.7,525.8L1401.3,520.2L1406.9,514.6L1408.7,509.0L1414.3,505.3L1422.5,507.2L1427.4,503.4L1431.1,505.3L1433.9,512.8L1436.7,518.4L1440.4,525.8L1443.2,533.7 M1540.0,240.4L1546.4,241.2L1552.8,243.6L1560.8,244.4L1567.2,242.8L1568.8,239.6L1576.8,238.8L1584.8,239.6L1592.8,241.2L1599.2,242.8L1600.0,246.8L1596.0,248.4L1599.2,253.2L1604.0,254.8L1608.8,253.2L1612.0,249.2L1616.8,250.8L1622.8,251.6L1629.6,250.8L1637.5,250.8L1643.9,249.2L1647.1,245.2L1651.9,243.6L1658.3,241.2L1666.3,243.6L1675.9,245.2L1687.1,246.0L1690.3,250.0L1698.3,252.4L1706.3,254.0L1715.9,253.2L1725.5,253.2L1731.9,254.8L1733.5,260.4L1741.5,261.2L1751.1,260.4L1760.7,260.4L1768.7,259.6L1773.5,263.6L1779.9,265.2L1783.1,260.4L1789.5,258.8L1799.1,259.6L1808.7,261.2L1818.3,262.8L1824.6,263.6 M1631.2,230.0L1637.5,226.8L1645.5,227.6L1653.5,226.0L1661.5,227.6L1667.9,230.0L1664.7,233.2L1658.3,234.8L1655.1,239.6L1650.3,242.8L1643.9,238.0L1639.1,234.8L1632.8,233.2L1631.2,230.0 M1635.9,230.8L1645.5,231.6L1655.1,230.8L1663.1,230.8 M1673.5,230.8L1683.9,230.0L1695.9,232.4L1690.3,235.6L1679.1,234.8L1673.5,230.8 M1677.5,232.4L1690.3,233.2 M1815.1,254.0L1823.1,254.8 M1810.3,286.7L1821.5,287.5 M1622.8,334.7L1629.6,330.7L1635.9,325.9L1642.3,321.1L1648.7,316.3L1655.1,313.1L1664.7,312.3L1675.9,311.5L1687.1,309.9L1693.5,313.1L1695.1,316.3L1701.5,314.7L1707.9,313.1L1706.3,309.1L1712.7,303.5L1719.1,300.3L1727.1,300.3L1735.1,301.1L1736.7,305.1L1743.1,300.3L1747.9,296.3L1754.3,295.5L1755.9,298.7L1749.5,303.5L1752.7,309.1L1759.1,309.9L1767.1,308.3L1775.1,307.5L1779.9,310.7L1786.3,306.7L1792.7,301.9L1800.7,298.7L1808.7,296.3L1818.3,294.7L1824.6,293.9 M1736.7,305.1L1731.9,311.5L1725.5,316.3L1719.1,321.1L1714.3,325.9L1712.7,332.3L1714.3,340.3L1715.9,348.3L1717.5,354.7L1712.7,359.5L1711.1,362.7L1715.9,361.9L1722.3,356.3L1727.1,349.9L1731.9,343.5L1735.1,338.7L1741.5,336.3L1743.1,330.7L1747.9,329.1L1747.9,322.7L1744.7,317.9L1746.3,311.5L1749.5,308.3 M1762.0,335.2L1762.9,336.2 M1791.4,346.4L1792.7,347.0 M1622.8,334.7L1629.6,339.5L1637.5,340.3L1643.9,342.7L1650.3,346.7L1648.7,353.1L1647.1,359.5L1647.1,365.9L1642.3,372.3L1637.5,377.1L1634.4,381.9L1629.6,387.7L1626.4,393.1L1622.8,396.3L1616.8,396.3L1610.4,394.7L1604.0,397.9L1599.2,402.7L1597.6,409.1L1591.2,412.3L1588.0,415.5L1591.2,421.9L1596.0,426.7L1598.4,431.5L1596.0,439.5L1591.2,441.1L1586.4,442.7L1584.0,436.3L1584.8,429.9L1581.6,425.1L1578.4,420.3L1580.0,415.5L1575.2,413.1L1568.8,415.5L1566.4,410.7L1562.4,407.5L1556.0,410.7L1551.2,413.9L1544.8,417.1L1546.4,422.7L1551.2,426.7L1556.0,425.1L1562.4,423.5L1568.8,426.7L1564.0,429.9L1557.6,431.5L1553.1,436.3 M1626.4,335.5L1634.4,337.9L1629.6,341.9L1626.4,338.7 M1655.1,338.7L1659.1,337.9L1661.5,346.7L1663.9,357.9L1666.3,365.9L1663.1,367.5L1659.9,361.1L1657.5,353.1L1655.5,346.7 M1654.3,340.3L1652.7,349.9L1651.9,359.5L1651.9,369.1L1653.5,378.7L1654.3,386.7L1653.9,393.1L1657.5,396.3L1659.1,389.9L1657.5,381.9L1661.5,381.9L1659.1,377.1L1655.9,373.9 M1642.3,397.9L1647.1,393.1L1651.9,391.5L1658.3,396.3L1664.7,394.7L1671.1,397.9L1667.9,401.1L1661.5,402.7L1655.1,403.5L1651.9,399.5L1647.1,402.7L1642.3,397.9 M1664.7,394.7L1672.7,389.9L1680.7,385.9L1688.7,381.9L1693.5,379.8 M1643.9,404.3L1642.3,410.7L1639.1,418.7L1634.4,425.1L1628.0,429.9L1621.6,434.7L1615.2,437.9L1607.2,441.1L1600.8,445.9L1597.6,452.3L1599.2,458.7L1604.0,460.3L1608.8,453.9L1615.2,450.7L1623.2,448.3L1629.6,445.9L1635.9,442.7L1643.9,441.1L1650.3,437.9L1650.3,429.9L1654.3,421.9L1655.1,413.9L1651.9,404.3L1643.9,404.3 M1600.8,449.1L1607.2,445.9L1615.2,442.7L1620.0,439.5 M1602.4,453.9L1608.8,449.1L1616.8,445.9L1621.6,442.7 M1598.0,472.7L1599.0,473.4 M1591.7,482.3L1592.6,483.0 M1428.8,510.0L1435.2,514.8L1440.0,521.2L1442.4,527.9 M1433.9,548.4L1432.8,554.8L1432.0,559.9 M1435.8,548.7L1434.5,555.1L1433.9,559.9 M1495.9,510.0L1492.8,514.8L1491.2,519.6L1494.4,524.4L1499.1,529.2L1503.9,534.0L1508.7,540.4L1510.3,548.4L1508.7,556.4L1505.5,561.2L1499.1,564.4L1492.8,567.6L1488.0,572.7 M1505.5,516.4L1511.9,511.6L1518.3,514.8L1516.7,521.2L1510.3,526.0L1504.7,522.8L1505.5,516.4 M1459.2,575.6L1464.0,582.0L1468.8,590.0L1473.6,598.0L1478.4,605.9L1483.2,612.3L1487.2,611.5L1484.8,604.4L1483.2,596.4L1481.6,590.0L1476.8,585.2L1472.0,580.4L1468.8,575.6 M1445.6,589.2L1452.8,590.0L1459.2,596.4L1465.6,604.4L1470.4,612.3L1475.2,620.3L1481.6,626.7L1488.0,633.1L1492.8,637.9L1494.4,644.3L1491.2,645.9L1486.4,642.7L1480.0,636.3L1473.6,629.9L1467.2,621.9L1462.4,613.9L1457.6,605.9L1451.2,598.0L1445.6,591.6L1445.6,589.2 M1447.7,604.0L1448.6,605.0 M1454.1,610.4L1455.0,611.4 M1461.6,624.3L1463.2,625.9 M1495.9,631.5L1497.9,632.8 M1503.6,633.1L1505.2,634.1 M1494.4,647.5L1502.3,650.7L1511.9,652.3L1521.5,653.9L1531.1,655.5L1540.7,657.1L1548.7,659.5L1553.5,661.9L1550.3,663.5L1540.7,661.9L1531.1,660.3L1521.5,658.7L1511.9,657.1L1502.3,655.5L1495.9,652.3L1494.4,647.5 M1555.1,661.9L1561.5,660.3L1569.5,661.9L1575.9,663.5 M1550.3,668.3L1559.9,669.9 M1569.5,668.3L1575.9,665.1L1581.0,662.7 M1505.5,609.1L1511.9,605.9L1518.3,602.8L1524.7,596.4L1531.1,591.6L1537.5,586.8L1542.3,582.0L1547.1,585.2L1551.9,591.6L1548.7,596.4L1545.5,601.2L1547.1,607.5L1548.7,613.9L1543.9,620.3L1540.7,626.7L1539.1,634.7L1532.7,639.5L1526.3,636.3L1518.3,634.7L1513.5,628.3L1511.9,621.9L1508.7,615.5L1505.5,609.1 M1553.5,613.9L1559.9,610.7L1567.9,612.3L1575.9,609.9L1580.7,610.7L1574.3,615.5L1566.3,617.1L1559.9,618.7L1558.3,625.1L1563.1,629.9L1569.5,634.7L1571.1,642.7L1567.9,645.9L1563.1,641.1L1559.9,636.3L1556.7,642.7L1553.5,647.5L1551.9,641.1L1553.5,633.1L1551.9,625.1L1553.5,613.9 M1555.9,617.1L1555.9,625.1L1558.3,631.5L1557.5,637.9 M1543.9,574.0L1548.7,570.8 M1564.7,580.4L1569.5,574.0L1575.9,570.8L1582.3,572.4L1585.5,578.8L1583.9,586.8L1577.5,590.0L1572.7,586.8L1567.9,585.2L1564.7,580.4 M1577.5,577.2L1580.7,580.4L1579.1,584.4L1576.7,581.2L1577.5,577.2 M1588.7,607.5L1591.9,605.9L1594.3,612.3L1593.5,618.7L1590.3,621.9L1588.7,615.5L1588.7,607.5 M1582.3,636.3L1588.7,634.7L1596.7,635.5L1604.7,636.3 M1575.6,628.0L1576.9,629.0 M1622.8,633.1L1627.1,628.3L1635.1,625.1L1643.1,626.7L1651.1,629.9L1659.1,633.1L1667.1,636.3L1671.9,641.1L1675.1,645.9L1681.5,647.5L1689.4,645.9L1695.8,642.7L1700.0,642.7 M1607.9,621.9L1615.9,620.3L1622.3,625.1L1620.7,633.1L1614.3,636.3L1609.5,631.5L1607.9,621.9 M1602.3,616.8L1607.9,620.3 M1615.9,637.9L1622.8,639.5L1627.1,641.1L1633.5,644.3L1638.3,649.1L1636.7,653.9L1633.5,658.7L1639.9,661.1L1644.7,658.7L1651.1,663.5L1657.5,661.9L1663.9,657.1L1670.3,660.3L1675.1,653.9L1678.3,652.3L1681.5,658.7L1686.2,665.1L1691.0,669.9L1693.4,671.5 M1617.5,649.1L1620.7,645.9L1621.5,652.3 M1675.4,628.8L1676.7,629.8 M1577.5,700.3L1571.1,703.5L1566.3,708.3L1563.1,714.7L1556.7,719.5L1548.7,721.1L1542.3,722.7L1535.9,725.9L1531.1,730.7L1527.9,735.8 M1534.3,796.2L1540.7,799.4L1547.1,797.8L1553.5,793.1L1561.5,791.5L1569.5,789.9L1574.3,786.7L1580.7,783.5L1586.6,781.9 M1635.1,701.9L1641.5,705.1L1646.3,709.9L1649.5,706.7L1651.9,698.7L1653.5,689.1L1654.3,679.5L1655.9,673.1L1659.1,679.5L1661.5,687.5L1667.1,692.3L1670.3,700.3L1671.9,708.3L1675.1,714.7L1681.5,717.9L1686.2,724.3L1691.0,730.7L1695.8,737.1L1700.0,743.5 M1639.9,797.8L1644.7,805.8 M1633.2,804.2L1639.6,801.5L1643.2,806.9L1646.8,812.4L1652.2,816.0L1656.2,817.8 M1699.9,743.5L1701.2,745.3L1704.8,752.6L1706.6,761.6L1706.6,768.9L1704.8,776.5 M1789.1,794.2L1793.6,797.0L1799.0,801.5L1801.8,808.7L1808.1,812.4L1816.3,811.5L1818.1,816.0L1811.7,819.6L1806.3,825.1L1800.9,830.5L1797.2,834.1L1793.6,830.5L1795.4,825.1L1794.5,819.6L1799.0,816.0L1800.9,810.6L1797.2,805.1L1792.7,799.7L1789.1,794.2 M1790.0,826.9L1793.6,830.5L1797.2,835.0L1791.8,841.4L1786.4,846.8L1782.7,852.2L1777.3,857.7L1770.0,861.3L1763.7,857.7L1761.9,854.1L1766.4,848.6L1771.9,845.0L1777.3,841.4L1782.7,835.9L1787.3,830.5L1790.0,826.9 M1790.9,796.1L1797.2,803.3L1800.9,809.6 M1500.0,961.0L1507.2,961.9L1512.7,961.0L1516.3,957.4L1523.6,955.9L1530.8,956.5L1536.2,959.2L1545.3,961.9L1554.4,962.8L1561.6,961.0L1567.1,959.2L1572.5,961.9L1579.7,959.2L1585.2,957.4L1590.6,961.0L1597.9,964.6L1600.6,959.2L1608.7,957.7L1622.9,958.3L1634.1,959.2L1645.0,961.0L1655.9,961.9L1664.9,962.8L1666.7,967.3L1674.0,968.2L1679.4,971.9L1686.7,971.9L1693.9,970.0L1701.2,971.9L1708.4,971.9L1713.9,975.5L1722.9,973.7L1732.0,974.6L1739.2,976.4L1741.0,982.7L1748.3,979.1L1757.4,980.0L1766.4,981.8L1775.5,983.6L1781.8,984.5L1782.7,988.2L1777.3,991.8L1770.0,993.6L1764.6,999.0L1757.4,1000.9L1750.1,1004.5L1745.6,1008.1L1746.5,1013.5L1751.0,1019.0L1753.7,1022.6L1746.5,1024.4L1739.2,1026.2L1733.8,1028.0 M1761.0,1016.3L1770.0,1015.4L1779.1,1016.8 M292.0,1025.3L298.6,1022.6L306.6,1024.7L311.9,1027.9 M314.6,1014.6L325.3,1013.3L335.9,1014.6L343.9,1017.3L354.6,1018.6L365.2,1017.3L373.2,1014.6L370.6,1009.3L359.9,1009.3L354.6,1011.9 M317.3,1017.3L327.9,1020.5L338.6,1018.6 M317.3,1019.9L327.9,1023.9L341.3,1027.9L354.6,1030.1 M354.6,1010.6L370.6,1007.9L386.6,1006.6L402.6,1003.9L421.5,1001.8L431.9,1002.6L442.5,1006.6L454.5,1009.3L459.9,1003.9L466.5,999.9L474.5,994.6L482.5,997.3L493.2,996.5L501.2,998.6L498.5,1002.6L506.5,1005.3L517.2,1005.3L522.5,1001.3L519.8,998.1L526.5,998.1L533.2,1002.6L541.2,1003.9L551.8,1003.4L559.8,1001.3L573.1,1002.6L578.5,1001.3L573.1,994.6L566.5,992.0L573.1,988.0L583.8,988.0L594.5,989.3L597.1,994.6L589.1,995.9L599.8,992.8 M569.1,990.6L581.1,992.0L591.8,992.8 M999.9,981.5L1005.9,980.6L1011.7,978.3L1017.4,983.5L1022.3,985.2L1031.8,983.5L1040.4,979.2L1054.8,977.7L1072.1,977.7L1089.4,978.3L1106.7,979.2L1123.9,981.2L1141.2,978.3L1158.5,976.3L1170.0,974.8L1174.3,970.5L1184.4,974.8L1194.5,977.7L1200.2,972.0L1210.3,967.6L1222.4,966.2L1233.3,965.6L1244.8,965.6L1247.7,960.4L1256.3,957.0L1269.3,957.6 M1329.7,967.6L1331.2,976.3L1336.9,980.6 M1397.4,961.9L1411.8,961.0L1422.7,961.0L1434.8,960.4L1449.2,960.4L1466.5,959.0L1478.0,955.3L1489.5,957.6L1499.9,961.0 M310.5,505.0L312.0,506.0 M318.6,509.7L323.0,511.5L327.1,514.0L331.0,517.0L333.5,520.3L329.3,522.5L328.0,518.5 M357.2,709.6L358.2,710.4 M236.6,844.2L237.6,845.0 M1329.0,871.5L1334.5,872.0L1336.5,874.5L1331.0,875.5L1329.0,871.5 M600.0,212.0L606.4,214.1L612.8,218.4L621.3,217.3L629.9,209.9L638.4,207.7L645.8,212.0L642.6,218.4L636.2,222.7L644.8,224.8L655.4,223.7L664.0,225.9L669.3,230.1L666.1,235.4L657.6,232.2L646.9,231.2L636.2,232.2L627.7,233.3L619.2,231.2L610.7,228.0L604.3,230.1L600.0,231.2 M600.0,238.6L608.5,240.8L617.1,239.7L625.6,242.9L635.2,241.8L644.8,242.9L655.4,241.8L664.0,238.6L674.6,238.6L683.2,240.8L687.4,245.0L681.0,247.2L672.5,246.1L664.0,248.2L655.4,246.1L646.9,249.3L640.5,251.4L635.2,247.2L627.7,246.1L621.3,249.3L612.8,247.2L606.4,249.3L600.0,251.4 M600.0,220.5L608.5,222.7L617.1,224.8L627.7,226.9L638.4,228.0L649.0,228.0L659.7,229.0 M632.0,213.1L639.4,215.2L636.2,219.5 M604.3,255.7L610.7,260.0L617.1,264.2L624.5,264.2 M600.0,262.1L603.2,266.4L601.1,270.6 M668.2,221.6L674.6,219.5L681.0,217.3L687.4,212.0L695.9,208.8L704.5,209.9L713.0,212.0L722.6,210.9L733.3,208.8 M695.9,217.3L702.3,220.5L707.7,223.7L715.1,226.9L719.4,223.7L717.3,219.5L710.9,217.3L704.5,216.3L695.9,217.3 M779.1,255.7L781.2,249.3L787.6,249.3L794.0,251.4L797.2,256.8L796.2,262.1L791.9,265.3L785.5,264.2L779.1,260.0L779.1,255.7 M624.5,246.1L632.0,251.4L640.5,255.7L649.0,257.3L659.7,257.8L669.3,258.9L674.6,256.8L681.0,258.9L687.4,262.1L693.8,265.3L699.1,267.4L702.3,271.7L700.2,276.0L695.9,279.2L689.6,280.2L681.0,281.3L674.6,282.4L671.4,285.6L674.6,289.8L681.0,289.8L688.5,287.7L695.9,287.7L702.3,289.8L706.6,293.0L713.0,294.1L719.4,298.3L725.8,301.5L729.0,298.3L730.1,293.0L735.4,289.8L737.5,286.6L733.3,284.5L727.9,280.2L724.7,276.0L732.2,278.1L737.5,280.2L743.9,279.2L749.3,276.0L751.4,274.9L743.9,272.8L736.5,269.6L727.9,267.4L720.5,265.3L717.3,262.1L722.6,257.8L717.3,254.6L708.7,251.4L700.2,249.3L692.8,247.2L687.4,244.0 M677.8,268.5L683.2,266.4L689.6,268.5L693.8,270.6L690.6,273.8L684.2,274.9L678.9,272.8L677.8,268.5 M680.0,270.1L685.3,269.6L689.6,271.2L685.3,272.8L680.0,270.1 M720.5,277.0L727.9,276.0L733.3,280.2L730.1,283.4L723.7,282.4L720.5,277.0 M722.6,278.6L729.0,279.7 M714.1,288.8L720.5,289.8L727.9,291.9L724.7,297.3L718.3,296.2L714.1,291.9L714.1,288.8 M716.2,290.9L722.6,293.0L720.5,295.1 M624.5,264.2L629.9,262.1L636.2,264.2L640.5,269.6L637.3,273.8L640.5,279.2L644.8,283.4L649.0,286.6L655.4,288.8L661.8,289.8L666.1,290.9L664.0,295.1L657.6,298.3L651.2,299.4L649.0,296.2L653.3,294.1L645.8,291.9L639.4,294.1L635.2,290.9L633.0,285.6L635.2,280.2L630.9,276.0L627.7,270.6L624.5,264.2 M642.6,264.2L650.1,263.2L654.4,266.4L653.3,271.7L648.0,274.9L642.6,272.8L642.6,264.2 M641.6,284.5L644.8,282.9L648.0,286.6L643.7,289.8L641.6,284.5 M664.0,298.3L669.3,297.3L672.5,300.5L668.2,303.7L664.0,301.5L664.0,298.3 M655.4,260.0L659.7,265.3L661.8,270.6L659.7,277.0L655.4,280.2 M1674.5,629.0L1677.7,629.9 M1692.2,632.6L1696.2,631.7L1699.9,635.3L1703.5,639.0L1704.4,642.6L1700.8,646.2L1696.2,648.9L1690.8,650.3L1685.4,649.4L1681.7,647.1 M1694.4,634.0L1699.0,637.2L1701.7,640.8L1699.9,644.4L1696.2,647.1L1690.8,648.5 M1709.4,645.3L1712.6,648.9L1716.2,651.7L1719.8,654.4L1722.5,658.0L1721.6,662.5L1725.2,661.6L1728.0,658.0L1731.6,659.8L1736.1,662.5L1739.7,665.2L1737.9,668.9L1732.5,668.0L1730.7,665.2L1735.2,670.7L1739.7,673.4L1745.2,673.4 M1710.7,647.1L1714.4,650.7L1718.9,654.4L1722.5,659.8 M1729.8,661.6L1734.3,664.3L1737.9,667.1 M1761.9,693.3L1765.1,694.2L1767.8,697.9L1769.8,700.8 M1762.9,694.7L1766.0,697.4L1768.3,700.1 M1027.2,430.8L1033.6,430.2L1040.0,429.7L1046.4,430.2L1053.9,429.2L1061.3,428.1L1066.7,426.5L1070.9,428.6L1069.9,434.0L1071.4,438.2L1067.7,441.4L1066.1,444.6L1070.9,447.8L1077.3,449.4L1084.8,450.5L1090.1,454.2L1091.2,457.4L1097.6,459.0L1102.9,461.7L1107.2,463.8L1110.9,460.6L1111.4,455.3L1114.6,451.0L1120.0,450.0L1125.3,450.5L1128.5,453.2L1133.8,454.8L1139.1,456.4L1144.5,458.5L1147.9,459.8 M1057.1,412.6L1059.2,416.9L1064.5,418.0L1065.6,414.8L1065.1,412.1 M1076.2,422.2L1082.6,421.7L1088.0,423.3L1091.2,425.4L1090.1,429.7L1085.8,430.8L1080.5,428.1L1076.2,425.4L1076.2,422.2 M1078.4,423.8L1084.8,425.4L1088.5,427.6 M1095.4,403.0L1099.7,406.2L1104.0,409.4L1107.2,412.6L1105.0,414.8L1100.8,415.8L1097.6,420.1L1094.4,423.3L1091.2,420.1L1088.0,416.9L1085.8,413.7L1088.0,411.6L1092.2,412.6L1095.4,410.5L1093.3,406.2 M1097.6,408.4L1101.8,412.1L1098.1,415.8L1094.9,419.6 M1090.1,413.7L1093.3,415.8L1095.4,418.0 M1106.1,402.0L1110.4,405.2L1112.5,410.5L1115.7,415.8L1116.8,421.2L1118.9,426.5L1122.1,430.8L1126.4,432.9L1128.5,429.7L1130.6,425.4L1131.7,421.2L1128.5,418.0L1125.3,414.8L1122.1,412.6L1121.0,409.4L1125.3,407.3L1130.6,406.8L1135.9,407.3L1139.1,410.5L1137.0,414.8L1135.9,419.0L1138.1,422.2L1140.2,425.4L1143.4,429.7L1146.6,432.9L1149.0,434.2 M1117.8,420.1L1122.1,423.3L1125.3,427.6L1127.4,430.8 M1120.0,416.9L1124.2,420.1L1128.5,423.3 M1121.0,425.4L1124.2,429.7 M1125.3,436.6L1130.6,435.6L1135.9,436.6L1140.2,438.2L1139.1,440.9L1132.8,440.4L1126.4,439.3L1125.3,436.6 M1127.4,438.0L1138.1,439.3 M1143.9,398.8L1145.5,394.5L1149.8,390.3L1153.0,384.9L1157.3,379.6L1161.5,378.0L1166.9,379.1L1172.2,380.7L1177.5,378.5L1182.9,376.4L1189.3,374.8L1195.7,374.3L1198.8,376.4L1196.7,379.6L1192.5,380.7L1187.1,381.7L1181.8,383.9L1178.6,387.1L1174.3,391.3L1171.1,392.4L1167.9,389.2L1163.7,384.9L1161.5,382.8L1157.3,386.0L1154.1,390.3L1150.9,394.5L1149.8,398.8L1150.9,403.0L1155.1,404.1L1160.5,403.0L1165.8,400.9L1171.1,399.9L1176.5,400.9L1181.8,402.5L1187.3,404.1 M1143.9,398.8L1142.3,403.0L1140.2,406.2L1142.3,408.4L1146.6,407.3L1150.9,406.2L1155.1,409.4L1153.0,411.6 M1139.1,410.5L1143.4,413.7L1146.6,416.9L1148.7,421.2" fill="none" stroke="#000" stroke-width="5.5" stroke-linejoin="round" stroke-linecap="round"/>
<path d="M221.45,206.85 V1026.00 M421.64,206.85 V1026.00 M621.84,206.85 V1026.00 M822.03,206.85 V1026.00 M1022.22,206.85 V1026.00 M1222.42,206.85 V1026.00 M1422.61,206.85 V1026.00 M1622.81,206.85 V1026.00 M1823.00,206.85 V1026.00" fill="none" stroke="#bfbfbf" stroke-width="5.2" stroke-dasharray="5.2 3.1"/>
<path d="M220.15,849.76 H1819.50 M220.15,618.67 H1819.50 M220.15,387.59 H1819.50" fill="none" stroke="#bfbfbf" stroke-width="5.2" stroke-dasharray="5.2 10.99"/>
<circle cx="510.9" cy="295.8" r="29.9" fill="#08b5d0"/>
<circle cx="487.7" cy="369.4" r="29.9" fill="#abc739"/>
<circle cx="494.5" cy="440.8" r="29.9" fill="#01b8ca"/>
<circle cx="555.3" cy="416.9" r="29.9" fill="#3fca8e"/>
<circle cx="677.0" cy="417.4" r="31.2" fill="#b9c431"/>
<circle cx="677.0" cy="417.4" r="29.9" fill="#dcbd29"/>
<circle cx="785.8" cy="371.7" r="29.9" fill="#c5c22a"/>
<circle cx="690.4" cy="592.4" r="29.9" fill="#f8ba3d"/>
<circle cx="785.8" cy="590.5" r="29.9" fill="#3fca8e"/>
<circle cx="702.0" cy="700.7" r="29.9" fill="#08b5d0"/>
<circle cx="819.9" cy="732.7" r="29.9" fill="#19bfb6"/>
<circle cx="762.7" cy="882.0" r="29.9" fill="#8fcb4e"/>
<circle cx="241.2" cy="724.9" r="29.9" fill="#b9c431"/>
<circle cx="1128.7" cy="306.9" r="29.9" fill="#dcbd29"/>
<circle cx="1137.5" cy="269.9" r="29.9" fill="#08b5d0"/>
<circle cx="1079.4" cy="347.8" r="29.9" fill="#8fcb4e"/>
<circle cx="1114.0" cy="348.5" r="29.9" fill="#72cd64"/>
<circle cx="1086.0" cy="360.0" r="29.9" fill="#abc739"/>
<circle cx="1049.8" cy="345.2" r="29.9" fill="#8fcb4e"/>
<circle cx="1072.3" cy="382.7" r="29.9" fill="#72cd64"/>
<circle cx="1021.8" cy="355.3" r="29.9" fill="#81cc59"/>
<circle cx="1089.0" cy="375.0" r="29.9" fill="#9dc943"/>
<circle cx="992.6" cy="428.9" r="29.9" fill="#31c69f"/>
<circle cx="1026.8" cy="393.0" r="29.9" fill="#c5c22a"/>
<circle cx="1216.2" cy="409.5" r="29.9" fill="#31c69f"/>
<circle cx="1176.2" cy="447.9" r="29.9" fill="#08b5d0"/>
<circle cx="1352.7" cy="397.1" r="29.9" fill="#2797eb"/>
<circle cx="1409.9" cy="391.3" r="29.9" fill="#20a5e3"/>
<circle cx="1496.2" cy="370.7" r="29.9" fill="#1ca9df"/>
<circle cx="1528.8" cy="459.6" r="29.9" fill="#2e87f7"/>
<circle cx="1467.4" cy="545.9" r="29.9" fill="#2797eb"/>
<circle cx="1558.7" cy="541.7" r="29.9" fill="#20a5e3"/>
<circle cx="1375.3" cy="581.1" r="29.9" fill="#1ca9df"/>
<circle cx="1365.1" cy="550.1" r="29.9" fill="#1ca9df"/>
<circle cx="994.5" cy="698.2" r="29.9" fill="#19bfb6"/>
<circle cx="1157.0" cy="619.7" r="29.9" fill="#1ca9df"/>
<circle cx="1112.6" cy="782.8" r="29.9" fill="#2cc4a7"/>
<circle cx="1143.5" cy="749.3" r="29.9" fill="#23a0e5"/>
<circle cx="1276.0" cy="721.0" r="29.9" fill="#01b8ca"/>
<circle cx="1342.0" cy="653.8" r="29.9" fill="#08b5d0"/>
<circle cx="1723.9" cy="580.9" r="29.9" fill="#3fca8e"/>
<circle cx="1608.1" cy="690.1" r="29.9" fill="#4acb84"/>
<circle cx="1603.5" cy="683.2" r="29.9" fill="#24c1ae"/>
<circle cx="1533.1" cy="766.2" r="29.9" fill="#01b8ca"/>
<circle cx="1615.6" cy="780.0" r="29.9" fill="#31c69f"/>
<circle cx="1682.8" cy="797.7" r="29.9" fill="#37c897"/>
<circle cx="1676.4" cy="836.1" r="29.9" fill="#2cc4a7"/>
<circle cx="1809.6" cy="707.1" r="29.9" fill="#d1bf27"/>
<circle cx="1760.8" cy="730.9" r="29.9" fill="#72cd64"/>
<circle cx="1299.9" cy="964.0" r="29.9" fill="#2cc4a7"/>
<circle cx="1367.1" cy="968.8" r="29.9" fill="#19bfb6"/>
<text font-weight="bold" fill="#262626" font-size="67.00"><tspan x="16.12" y="296.90">70</tspan><tspan x="92.01" y="269.52" font-size="60.00">°</tspan><tspan x="117.81" y="296.90"> N</tspan></text>
<text font-weight="bold" fill="#262626" font-size="67.00"><tspan x="16.94" y="399.16">50</tspan><tspan x="92.83" y="371.78" font-size="60.00">°</tspan><tspan x="118.63" y="399.16"> N</tspan></text>
<text font-weight="bold" fill="#262626" font-size="67.00"><tspan x="17.46" y="501.41">30</tspan><tspan x="93.35" y="474.03" font-size="60.00">°</tspan><tspan x="119.15" y="501.41"> N</tspan></text>
<text font-weight="bold" fill="#262626" font-size="67.00"><tspan x="17.28" y="603.67">10</tspan><tspan x="93.17" y="576.29" font-size="60.00">°</tspan><tspan x="118.97" y="603.67"> N</tspan></text>
<text font-weight="bold" fill="#262626" font-size="67.00"><tspan x="17.28" y="705.93">10</tspan><tspan x="93.17" y="678.55" font-size="60.00">°</tspan><tspan x="118.97" y="705.93"> S</tspan></text>
<text font-weight="bold" fill="#262626" font-size="67.00"><tspan x="17.46" y="808.19">30</tspan><tspan x="93.35" y="780.81" font-size="60.00">°</tspan><tspan x="119.15" y="808.19"> S</tspan></text>
<text font-weight="bold" fill="#262626" font-size="67.00"><tspan x="16.94" y="910.44">50</tspan><tspan x="92.83" y="883.06" font-size="60.00">°</tspan><tspan x="118.63" y="910.44"> S</tspan></text>
<text font-weight="bold" fill="#262626" font-size="67.00"><tspan x="16.12" y="1012.70">70</tspan><tspan x="92.01" y="985.32" font-size="60.00">°</tspan><tspan x="117.81" y="1012.70"> S</tspan></text>
<text font-weight="bold" fill="#262626" font-size="67.00"><tspan x="121.43" y="1146.40">180</tspan><tspan x="234.58" y="1119.02" font-size="60.00">°</tspan><tspan x="260.38" y="1146.40"> W</tspan></text>
<text font-weight="bold" fill="#262626" font-size="67.00"><tspan x="386.15" y="1146.40">120</tspan><tspan x="499.30" y="1119.02" font-size="60.00">°</tspan><tspan x="525.11" y="1146.40"> W</tspan></text>
<text font-weight="bold" fill="#262626" font-size="67.00"><tspan x="680.35" y="1146.40">60</tspan><tspan x="756.23" y="1119.02" font-size="60.00">°</tspan><tspan x="782.04" y="1146.40"> W</tspan></text>
<text font-weight="bold" fill="#262626" font-size="67.00"><tspan x="1015.08" y="1146.40">0</tspan><tspan x="1053.70" y="1119.02" font-size="60.00">°</tspan></text>
<text font-weight="bold" fill="#262626" font-size="67.00"><tspan x="1220.70" y="1146.40">60</tspan><tspan x="1296.58" y="1119.02" font-size="60.00">°</tspan><tspan x="1322.39" y="1146.40"> E</tspan></text>
<text font-weight="bold" fill="#262626" font-size="67.00"><tspan x="1461.95" y="1146.40">120</tspan><tspan x="1575.10" y="1119.02" font-size="60.00">°</tspan><tspan x="1600.91" y="1146.40"> E</tspan></text>
<text font-weight="bold" fill="#262626" font-size="67.00"><tspan x="1727.38" y="1146.40">180</tspan><tspan x="1840.53" y="1119.02" font-size="60.00">°</tspan><tspan x="1866.33" y="1146.40"> E</tspan></text>
</g>
<g id="map2">
<rect x="218.00" y="1552.00" width="1608.50" height="826.00" fill="#fff" stroke="#262626" stroke-width="17.60" stroke-linejoin="miter"/>
<clipPath id="clip1"><rect x="216.00" y="1550.00" width="1612.50" height="830.00"/></clipPath>
<path clip-path="url(#clip1)" d="M220.6,1609.3L231.0,1612.4L239.0,1615.3L244.7,1618.0L251.1,1618.5L256.7,1618.9L262.3,1622.1L263.9,1623.3L259.9,1625.3L253.5,1626.5L251.9,1630.1L247.9,1632.5L243.1,1631.8L238.2,1629.0L234.2,1626.0L228.6,1625.0L220.6,1626.0 M220.6,1598.4L226.2,1597.1L230.5,1596.4 M254.6,1636.0L262.3,1635.3L269.6,1637.9L263.9,1639.5L255.5,1637.9L254.6,1636.0 M469.5,1604.8L461.5,1607.2L456.7,1601.9L450.3,1599.5L444.6,1602.4L440.6,1600.8L434.2,1603.2L426.1,1607.2L418.9,1608.8L413.3,1609.7L405.3,1607.2L395.6,1604.8L386.0,1603.2L373.1,1602.4L360.3,1600.8L349.0,1600.0L341.0,1599.2L332.9,1596.8L324.9,1595.6L316.9,1597.1L308.8,1600.0L299.2,1601.6L292.8,1605.6L288.1,1608.3L281.6,1608.8L278.4,1611.3L281.6,1614.5L288.9,1616.9L294.4,1620.1L299.2,1622.1L296.0,1623.4L288.1,1622.5L280.0,1624.1L272.8,1625.7L272.0,1627.6L278.4,1629.0L286.4,1630.2L296.0,1630.5L302.4,1631.5L304.8,1635.3L300.8,1637.7L292.8,1638.2L286.4,1639.3L283.2,1643.3L280.0,1646.5L283.2,1650.6L280.8,1653.8L274.4,1654.3L275.2,1656.2L281.6,1657.0L286.4,1654.6L289.7,1657.8L296.0,1655.4L299.2,1657.8L300.8,1661.0L308.8,1661.0L318.5,1661.0L319.3,1665.8L315.3,1667.5L308.8,1670.7L302.4,1673.9L296.0,1677.1L289.7,1679.5L284.8,1681.9L286.4,1684.3L292.8,1682.7L300.8,1680.3L308.8,1677.9L315.3,1674.7L323.3,1670.7L329.7,1665.8L333.8,1660.2L337.8,1654.6L342.6,1650.2L350.6,1647.4L353.0,1649.0L347.4,1653.8L341.8,1657.5L345.8,1657.0L353.8,1653.0L360.3,1649.0L366.7,1650.2L373.1,1653.8L381.2,1654.6L389.2,1654.6L398.0,1655.4L403.7,1658.6L410.1,1662.6L416.5,1667.5L418.9,1672.3L424.5,1677.1L429.4,1685.2L435.8,1688.4L442.2,1692.4L448.6,1696.4L453.5,1702.8L457.5,1708.5 M332.9,1670.7L336.2,1663.4L343.4,1661.0L341.8,1667.5L336.2,1672.3L332.9,1670.7 M421.3,1665.0L427.8,1669.1L432.6,1675.5L439.0,1680.3L442.2,1681.9L440.6,1686.8 M427.0,1686.8L431.0,1692.4L437.4,1696.7 M447.8,1702.0L453.5,1707.4 M464.3,1736.6L465.0,1746.3L466.3,1754.3L467.9,1762.4L469.8,1766.4 M266.4,1690.8L270.4,1687.6L278.4,1685.5 M224.6,1697.2L225.4,1697.5 M233.1,1698.0L233.7,1698.3 M243.1,1695.1L244.0,1695.6 M457.6,1602.4L464.0,1603.3L469.1,1601.6L476.9,1603.3L485.8,1605.4L496.2,1606.7L501.9,1604.4L509.0,1605.9L514.7,1607.2L517.9,1610.6L524.4,1612.4L532.1,1612.9L539.8,1616.0L546.3,1613.7L552.7,1612.1L560.3,1615.0L568.1,1615.7L578.4,1617.5L584.1,1616.2L586.7,1611.9L586.0,1606.9 M586.0,1606.9L591.2,1604.4L597.0,1601.6L602.1,1606.3L602.8,1612.8L597.6,1617.0L591.2,1617.3L586.7,1614.1 M489.7,1595.7L498.7,1591.8L509.0,1590.5L517.9,1589.2L524.4,1591.6L529.5,1587.9L539.8,1587.1L547.6,1585.3L552.7,1587.0L556.5,1591.6L555.2,1595.4L560.3,1598.6L564.2,1603.3L570.7,1604.4L573.2,1608.2L568.1,1610.9L560.3,1609.6L552.7,1606.9L547.6,1608.2L539.8,1610.2L532.1,1608.2L524.4,1606.9L517.9,1604.4L514.1,1600.5L506.4,1600.5L500.0,1603.1L494.8,1600.5L489.7,1595.7 M461.4,1591.6L465.3,1585.3L470.4,1581.5L483.3,1580.2L496.2,1582.0L493.5,1586.4L488.4,1588.7L484.6,1593.1L479.4,1595.7L471.7,1595.7L465.3,1595.4L461.4,1591.6 M466.6,1570.9L483.3,1566.7L500.0,1564.1L511.5,1560.7L524.4,1558.1L534.7,1560.7L529.5,1565.1L519.3,1565.8L509.0,1568.1L502.6,1571.8L493.5,1573.1L483.3,1573.8L473.1,1575.1L466.6,1572.3L466.6,1570.9 M506.4,1573.8L514.1,1570.9L527.0,1569.6L534.7,1567.7L542.4,1570.3L550.1,1569.0L552.7,1572.9L547.6,1576.8L539.8,1578.7L529.5,1577.4L521.9,1580.0L512.8,1578.7L506.4,1573.8 M546.3,1553.0L560.3,1552.4L573.2,1554.3L578.4,1551.0L586.0,1555.6L597.6,1550.3L605.3,1554.3L611.8,1558.1L609.2,1563.2L598.9,1565.8L588.7,1564.5L579.6,1567.1L570.7,1565.8L560.3,1563.2L550.1,1560.7L546.3,1553.0 M562.9,1578.7L570.7,1576.1L579.6,1578.7L586.0,1576.1L591.2,1581.2L593.8,1588.9L588.7,1594.1L580.9,1591.6L575.8,1586.4L568.1,1588.9L562.9,1583.8L562.9,1578.7 M569.4,1570.9L578.4,1569.0L587.3,1572.3L593.8,1577.4L601.5,1574.8L607.9,1578.7L605.3,1583.8L598.9,1585.1 M590.0,1567.1L593.8,1573.6L592.5,1581.2L595.1,1588.9L600.2,1594.1L605.3,1598.0L610.4,1601.8L615.7,1604.4 M463.4,1622.4L471.7,1619.8L481.4,1617.3L483.9,1618.8L478.2,1622.4L473.1,1624.9L471.7,1629.5L470.4,1625.6L465.3,1624.3L463.4,1622.4 M606.6,1595.4L611.8,1600.5L619.5,1605.6L624.6,1609.6L629.7,1616.0L632.3,1622.4L629.7,1628.9L623.3,1632.7L616.9,1635.3L610.4,1639.1L604.0,1642.9L600.2,1648.2L597.6,1654.6L597.0,1661.0 M696.3,1562.2L702.9,1565.0L710.4,1565.0L716.0,1568.7L723.5,1571.6L734.8,1570.6L747.8,1570.6L757.3,1572.5L764.7,1576.3L770.3,1580.9L774.1,1585.6L773.1,1592.2L776.0,1596.0L783.5,1595.0L790.9,1596.9L794.7,1601.6L792.8,1606.2L787.2,1608.1L782.5,1611.0L781.6,1616.6L783.5,1622.2L789.1,1626.9L790.9,1631.6L796.5,1638.1L800.4,1642.8L806.0,1648.5L813.4,1651.3L821.2,1654.1L826.6,1656.9L831.3,1654.1L833.1,1646.5L834.1,1640.9L839.6,1637.2L841.5,1631.6L839.6,1627.8L845.3,1625.0L854.7,1624.1L865.9,1621.3L873.4,1616.6L880.0,1611.9L890.3,1610.6L901.5,1609.1L912.8,1606.2L922.1,1604.4L925.9,1599.7L920.3,1598.8L910.8,1600.1L904.3,1599.7L912.8,1596.0L922.1,1596.9L927.7,1595.0L925.9,1590.4L918.4,1590.4L910.8,1590.4L920.3,1587.5L927.7,1586.5L935.2,1582.8L940.9,1579.1L937.2,1573.5L927.7,1571.6L925.9,1567.8L935.2,1566.8L940.9,1568.7L935.2,1562.2L935.2,1556.6L944.6,1552.9 M776.0,1596.0L779.7,1600.6L787.2,1602.5L792.8,1606.2 M913.7,1624.1L920.3,1621.3L929.6,1623.1L937.2,1621.8L946.5,1620.7L955.8,1621.3L962.4,1625.9L961.5,1631.6L954.0,1633.5L944.6,1636.3L935.2,1637.2L924.0,1636.3L916.5,1633.5L913.7,1628.8L913.7,1624.1 M914.7,1625.9L922.1,1627.8L917.5,1630.7 M980.5,1599.1L988.7,1597.8 M988.7,1643.2L995.2,1643.9 M1015.8,1653.4L1016.4,1653.7 M989.6,1663.8L997.1,1661.6L1004.5,1659.7L1010.2,1658.8L1008.4,1663.4L1002.7,1665.3L998.9,1669.1L1005.6,1671.9 M997.1,1695.3L991.5,1697.6L982.1,1700.2L975.5,1697.2L978.3,1687.9L976.4,1684.1L984.0,1679.4L993.3,1679.4L997.1,1682.2 M980.2,1742.7L987.7,1740.3L997.1,1739.6 M1023.3,1777.8L1030.1,1776.9 M980.2,1804.2L980.5,1809.8L974.6,1815.4L965.2,1819.2L959.7,1822.9L955.8,1830.4L952.1,1837.9L948.4,1845.4L946.5,1852.9L944.6,1860.4L948.4,1867.9L949.3,1877.3L948.4,1885.9 M946.5,1819.6L954.0,1820.7 M959.7,1815.4L961.9,1816.1 M894.6,1766.3L895.5,1766.6 M907.7,1769.1L908.8,1769.4 M678.5,1642.8L689.8,1644.7L701.0,1646.5L710.4,1650.4L712.3,1656.0L716.0,1661.6L721.6,1663.4L727.3,1659.7L731.0,1654.1L734.8,1654.1L740.4,1661.6L747.8,1667.3L747.8,1672.9L753.5,1676.6L761.0,1680.3L766.6,1685.1L773.1,1689.4 M678.5,1665.3L680.0,1674.7 M703.8,1722.5L710.4,1716.9L716.0,1711.3L721.6,1705.7L734.8,1704.8L747.8,1703.7L757.3,1701.9L761.0,1699.1 M725.3,1714.1L732.9,1712.2L734.8,1719.7L742.2,1721.6L749.7,1718.8L755.4,1721.6 M721.6,1731.0L731.0,1727.3L740.4,1731.0L749.7,1729.1L755.4,1727.3 M727.3,1740.3L734.8,1738.5L744.1,1732.9L753.5,1729.1 M706.7,1752.6L708.6,1749.8L704.8,1746.0L708.6,1740.3L717.9,1736.6L725.3,1732.9 M678.5,1826.6L682.3,1837.9L687.9,1849.1L691.7,1851.4 M678.5,1858.6L689.8,1860.4L697.3,1864.2L708.6,1866.0L716.0,1869.8L702.9,1871.6L689.8,1869.8L678.5,1867.9 M720.1,1869.8L729.2,1870.9 M746.5,1881.0L747.5,1881.4 M517.9,1803.9L522.7,1813.2L528.3,1820.7L533.9,1827.3L539.5,1835.7L545.2,1841.4L550.8,1848.8L551.7,1856.4L550.8,1860.1L556.4,1865.7L563.8,1870.4L571.4,1874.1L578.8,1878.0L586.3,1881.7L592.0,1884.5L597.6,1881.7L603.2,1882.6L608.8,1888.2L614.5,1891.9L620.1,1894.8L627.6,1895.8L633.2,1896.7L637.0,1901.4L638.8,1908.8L642.6,1912.6L646.3,1918.3L653.8,1921.1L659.5,1923.9L663.2,1927.2 M505.8,1813.2L508.6,1819.8L513.2,1826.3L518.8,1835.7L524.5,1841.4L532.0,1846.6L533.3,1845.1L531.1,1839.5L528.3,1831.9L524.5,1824.5L519.9,1816.9L515.1,1808.5 M510.4,1818.9L516.0,1827.3L521.7,1835.7L527.3,1842.3 M668.8,1793.5L662.3,1797.2L658.5,1802.0L658.5,1809.5L660.4,1816.9L662.3,1824.5L663.2,1831.9L661.7,1836.6L657.5,1831.9L653.8,1826.3L651.0,1818.9L648.2,1811.3L642.6,1808.5L635.1,1806.7L627.6,1805.7L620.1,1807.6L612.6,1811.3L605.1,1810.4L597.6,1811.3L592.0,1816.9L587.2,1820.7L586.3,1830.1L585.4,1837.6L584.4,1847.0L586.3,1854.4L590.1,1862.0L593.9,1867.6L599.5,1870.4L606.9,1869.5L614.5,1868.5L618.2,1863.9L620.1,1856.4L625.7,1853.5L633.2,1854.4L634.1,1860.1L631.3,1867.6L627.6,1875.2L624.8,1880.8L627.6,1882.6L635.1,1881.7L642.6,1881.7L648.2,1884.5L650.0,1890.1L649.1,1897.6L648.2,1905.1L650.0,1910.7L655.6,1916.4L663.2,1919.2L667.3,1918.3 M668.8,1826.3L676.3,1825.4L679.1,1830.1L682.0,1835.7L685.7,1839.5L689.4,1845.1L693.2,1849.8 M671.6,1836.6L675.3,1837.6L674.4,1842.3L671.6,1840.4L671.6,1836.6 M642.6,1851.1L648.2,1846.0L655.6,1844.2L665.1,1846.0L672.5,1849.8L680.0,1854.4L687.6,1857.3L693.2,1859.2L696.0,1856.4L689.4,1860.5L682.0,1861.2L674.4,1862.0L668.8,1856.4L661.3,1852.9L651.9,1854.4L642.6,1851.1 M646.3,1849.2L655.6,1847.9L665.1,1849.8L672.5,1854.4L680.0,1857.9 M670.7,1870.4L677.2,1869.1L683.8,1870.9L677.2,1873.2L670.7,1870.4 M689.4,1867.6L695.0,1864.8L702.5,1863.9L710.0,1864.8L715.6,1869.5L710.0,1871.3L704.4,1874.1L696.9,1872.3L689.4,1871.3L689.4,1867.6 M691.3,1869.5L698.7,1868.5L699.7,1870.4 M720.7,1869.5L729.7,1869.1L729.7,1871.7L720.7,1872.1L720.7,1869.5 M747.1,1880.8L747.8,1881.3 M749.9,1887.8L750.7,1888.6 M683.8,1907.9L691.3,1905.1L698.7,1901.4L702.5,1900.4L710.0,1902.3L715.6,1906.0L719.4,1910.7L726.8,1911.6L734.4,1909.8L739.1,1907.9L749.3,1907.9L750.4,1914.5L747.5,1921.1L753.2,1922.0L757.3,1924.2 M739.1,1907.9L745.6,1912.6L750.4,1914.5 M704.4,1904.2L705.6,1912.6L702.5,1907.9 M792.4,1968.8L796.2,1974.5L799.1,1968.8L803.7,1968.8L805.6,1972.7L811.2,1968.8L816.8,1972.7L824.3,1976.4L829.2,1978.3 M791.5,1969.9L794.3,1967.0L800.0,1966.6 M666.0,1960.4L662.3,1967.0L660.4,1972.7L665.1,1977.3L663.2,1982.9L658.5,1986.7L657.5,1991.4L659.5,1997.0L663.2,2000.8L666.9,2006.4L669.7,2012.0L672.5,2019.5L676.6,2027.4 M614.1,1967.5L615.1,1968.5 M610.3,1637.4L604.7,1641.5L599.9,1647.2L597.1,1654.1L597.1,1658.3L600.6,1659.6L605.4,1661.0L607.5,1666.0L608.9,1670.1L615.9,1669.4L620.1,1668.8L625.6,1670.8L632.5,1673.6L641.0,1676.4L649.3,1677.8L653.4,1680.5L654.8,1686.2L653.4,1691.0L657.6,1693.1L661.2,1697.3L664.6,1702.1L668.1,1700.0L671.5,1694.5L670.2,1690.3L667.4,1686.2L666.0,1681.9L668.1,1677.8L672.9,1675.7L678.5,1675.0L679.9,1669.4L677.1,1663.8L673.6,1661.0L675.0,1655.5L675.7,1649.9L672.9,1645.7L675.0,1642.2L682.7,1640.8L689.7,1641.5L695.2,1643.6L700.8,1646.4L706.4,1649.9L710.6,1654.1L711.9,1659.0L717.5,1662.4L721.6,1663.8L725.8,1661.0L730.1,1656.2L733.5,1653.4L737.0,1656.2L741.1,1661.7L745.3,1666.7L748.1,1670.1L745.3,1674.3L750.9,1677.1L757.9,1679.8L763.4,1682.6L769.0,1686.2L774.6,1688.7 M663.2,1675.0L666.0,1671.5L670.2,1672.9L667.4,1676.4L663.2,1675.0 M656.2,1690.3L660.5,1689.6L663.2,1693.1 M647.9,1640.8L653.4,1643.6 M662.5,1643.2L667.4,1646.8 M537.9,1659.0L543.5,1659.6 M561.6,1665.5L565.8,1663.8L570.0,1667.4L566.5,1671.5L563.6,1675.7L560.9,1672.2L561.6,1665.5 M563.6,1668.1L565.8,1667.4L564.3,1672.2 M577.6,1686.9L583.8,1686.2L586.6,1690.3L590.2,1695.9L593.6,1700.7L592.3,1705.7L588.0,1706.4L585.9,1701.4L583.1,1697.3L579.7,1693.1L577.6,1686.9 M581.1,1689.0L585.9,1694.5L589.5,1701.4 M610.3,1722.3L615.9,1718.8L622.8,1715.4L628.4,1710.5L635.4,1712.6L641.0,1715.4L645.1,1718.2L645.1,1722.3L639.6,1723.8L633.9,1721.6L628.4,1723.8L622.8,1725.2L617.3,1724.5L610.3,1722.3 M621.5,1719.5L627.0,1718.2L629.8,1720.9 M629.8,1730.7L628.4,1737.7L628.4,1746.1L630.5,1750.2L635.4,1750.9L637.5,1746.1L637.5,1739.0L636.1,1732.1L633.9,1729.3 M645.1,1723.8L652.0,1725.2L659.1,1725.9L663.2,1728.0L667.4,1731.0 M646.5,1730.7L647.9,1736.3L649.3,1740.4L654.1,1742.2 M649.3,1732.1L654.8,1732.1L657.6,1734.9 M703.5,1722.3L709.2,1716.8L714.7,1711.9L720.3,1707.1L724.4,1704.3L732.8,1703.5L741.1,1704.0L749.5,1703.5L756.8,1702.8 M724.4,1707.1L730.1,1709.8L732.8,1708.5L731.4,1713.3L727.3,1716.8L730.1,1720.9L735.6,1718.2L741.1,1715.4L748.1,1712.6L749.5,1709.8L755.1,1709.8 M732.8,1723.8L738.4,1725.2L746.7,1723.8L752.3,1720.9L756.5,1718.2 M705.7,1750.2L707.8,1752.3L711.2,1749.5L709.2,1746.1L705.0,1742.2L709.2,1738.4L716.1,1735.6L723.0,1733.5L727.3,1737.7L730.1,1741.8L734.2,1739.0L741.1,1736.3L749.5,1732.1L756.5,1729.3 M708.3,2077.2L707.5,2084.5L707.5,2092.5L706.7,2100.5L705.1,2108.6L703.4,2116.6L702.6,2124.7L702.6,2132.7L701.8,2139.1L699.4,2145.6L696.2,2152.0L693.0,2156.8L693.8,2163.3L694.6,2169.7L693.8,2176.1L696.2,2181.0L695.4,2187.4L693.8,2193.8L692.2,2199.5L688.2,2203.5L685.0,2206.7L685.8,2213.1L684.2,2219.6L685.8,2226.0L686.6,2232.3L689.8,2237.2L693.8,2242.0L699.4,2247.8 M694.6,2177.7L692.2,2187.4L690.1,2197.0L688.5,2206.7L688.5,2216.3L690.1,2226.0L693.3,2235.5L698.1,2243.6 M697.0,2181.0L693.8,2190.6L691.4,2200.3 M827.9,1977.6L837.5,1979.2L845.6,1980.0L850.4,1984.0L855.2,1988.9L861.6,1990.5L865.6,1992.9L867.3,1999.3L867.3,2006.5L864.8,2012.2L860.0,2017.8L855.2,2023.4L852.0,2028.3L848.0,2033.1L848.8,2039.5L848.8,2047.5L847.2,2055.5L845.6,2064.9 M806.2,2108.6L802.2,2113.4L798.2,2118.2L796.5,2123.1L792.5,2127.9L787.7,2131.1L785.3,2135.9L781.3,2140.8L778.1,2143.2L771.6,2144.0L765.2,2143.2L761.2,2140.8L760.4,2143.2L765.2,2147.2L766.8,2152.0L769.2,2155.2L766.8,2160.1L763.6,2163.3L757.2,2165.7L749.1,2166.5L742.7,2165.7L743.5,2171.3L745.1,2176.1L741.1,2178.5L736.3,2177.7L731.6,2175.3L730.0,2179.4L733.2,2184.2L737.9,2185.0L734.7,2189.0L731.6,2193.8L728.4,2198.7L721.9,2201.1L720.3,2205.1L725.1,2208.3L730.0,2209.9L727.6,2214.7L721.9,2218.0L718.7,2222.8L713.9,2225.2L713.1,2230.0L715.5,2233.9L717.1,2238.8L721.9,2243.6L728.4,2247.2 M732.4,2177.7L737.1,2181.0L733.9,2183.4 M696.2,2242.0L702.6,2238.0L709.1,2235.5L713.9,2233.9 M699.4,2245.2L707.5,2241.2L713.9,2240.4 M852.8,2242.8L858.4,2244.0L863.2,2246.8 M683.9,2207.6L682.8,2218.4L685.0,2229.0L690.3,2237.7L696.7,2244.0L705.3,2249.4L714.9,2251.5L724.5,2249.4L732.1,2247.2L724.5,2244.0L718.1,2239.8L714.9,2233.3L716.0,2226.9L713.8,2222.6L720.2,2216.1L724.5,2211.9L726.6,2207.6 M687.1,2220.5L689.2,2231.2L694.5,2239.8L703.1,2245.1L711.7,2246.2L720.2,2247.2 M698.8,2237.7L707.4,2239.8L712.8,2245.1L705.3,2247.2L698.8,2237.7 M853.0,2243.0L862.6,2247.2 M814.5,2277.3L820.9,2276.7 M749.8,2288.0L751.1,2288.4 M761.6,2284.8L762.9,2285.2 M778.1,2292.2L769.5,2291.2L760.9,2293.4L752.4,2295.5L743.8,2297.7L737.4,2299.8L735.3,2304.0L741.7,2306.2L735.3,2310.4L728.9,2308.3L726.6,2312.7L718.1,2310.4L711.7,2312.7L713.8,2316.9L722.4,2315.9L724.5,2321.2L718.1,2325.5L711.7,2323.3L707.4,2321.2L703.1,2324.4L707.4,2329.7L711.7,2334.1L705.3,2334.1L698.8,2332.0L692.4,2327.6L686.0,2324.4L680.6,2329.7L681.8,2335.2L688.2,2336.2L696.7,2337.3L709.6,2336.2L720.2,2334.1L723.4,2338.4L718.1,2342.6L705.3,2343.7L690.3,2344.8L683.9,2341.6L673.1,2338.4L671.0,2342.6L662.5,2341.6L651.7,2340.1L638.9,2342.6L619.6,2341.6L608.9,2339.4L598.2,2337.3 M778.1,2292.2L769.5,2297.7L760.9,2299.8L752.4,2301.9L745.9,2306.2L737.4,2311.6L731.0,2314.8L728.9,2319.1L737.4,2319.1L743.8,2323.3L748.1,2329.7L751.4,2336.2L755.6,2342.6L752.4,2349.0L745.9,2353.4L739.5,2357.7L731.0,2359.8L721.3,2361.9L731.0,2363.0L743.8,2360.9L758.8,2361.5L769.5,2364.1L782.4,2367.2L795.2,2369.5L810.2,2372.3L821.2,2373.1L833.7,2372.7L848.8,2371.6L863.7,2367.2L876.6,2363.0L893.7,2358.7L906.5,2355.5L919.4,2349.0L932.2,2345.8L945.1,2342.6L957.9,2339.4L968.7,2336.2L970.8,2332.0L979.3,2330.9L985.8,2335.2L992.2,2330.9L999.9,2329.7 M682.8,2327.6L690.3,2330.9L698.8,2334.1L690.3,2334.1L682.8,2332.0 M1070.6,1555.0L1077.1,1551.7L1086.7,1550.9L1089.9,1554.2L1083.5,1558.2L1078.7,1560.6L1085.1,1563.8L1091.5,1566.2L1096.2,1570.7L1101.1,1567.0L1104.3,1563.0L1102.7,1558.2L1105.9,1554.2L1115.5,1552.6L1125.2,1553.4L1134.8,1551.7L1142.0,1550.9 M1112.3,1559.8L1118.7,1564.6L1126.8,1565.4L1133.2,1563.0L1128.4,1559.8L1120.3,1558.2L1112.3,1559.8 M1073.8,1553.4L1083.5,1555.0L1093.1,1558.2L1102.7,1556.6 M1274.2,1551.4L1275.2,1552.4 M1301.2,1568.6L1289.0,1570.2L1279.4,1573.5L1269.8,1577.5L1263.4,1582.3L1256.9,1587.1L1252.1,1593.6L1255.3,1598.4L1263.4,1596.8L1271.4,1595.2L1273.0,1589.5L1276.2,1585.5L1282.7,1580.7L1292.2,1575.9L1301.2,1574.3 M1273.0,1593.6L1277.8,1598.4L1284.3,1600.0L1290.6,1603.2L1297.0,1604.8 M1046.5,1664.6L1043.3,1662.6L1043.3,1659.4L1042.5,1649.8L1044.1,1644.9L1049.7,1641.7L1054.6,1638.5L1061.0,1634.5L1067.4,1632.1L1072.2,1627.3L1077.1,1622.5L1080.3,1617.7L1078.7,1613.7L1083.5,1609.7L1089.9,1607.2L1096.2,1604.8L1102.7,1602.4L1109.5,1600.8 M1166.1,1602.4L1171.8,1604.8L1178.2,1606.4L1186.2,1608.0L1194.3,1610.5L1202.3,1612.9L1208.7,1616.1L1205.5,1620.1L1199.1,1621.7L1191.1,1622.5L1183.0,1620.9L1175.0,1620.1L1168.6,1617.7 M1176.6,1624.1L1181.4,1629.0L1187.8,1630.5L1194.3,1629.0L1200.7,1630.5L1205.5,1632.1L1202.3,1627.3L1207.1,1624.1L1213.6,1622.5L1216.8,1617.7L1215.2,1612.9L1213.6,1609.7L1220.0,1609.7L1223.3,1611.3L1228.0,1616.1L1234.4,1614.5L1240.9,1608.0L1244.1,1604.8L1247.3,1609.7L1253.7,1611.3L1260.2,1609.7L1266.6,1612.9L1273.0,1609.7L1281.0,1606.4L1285.8,1601.6L1292.2,1600.0L1297.0,1604.8L1301.2,1606.4 M1178.2,1625.7L1184.6,1626.5L1191.1,1625.7L1197.5,1627.3 M1098.3,1644.9L1097.0,1649.8L1098.7,1653.4 M1096.2,1661.0L1099.5,1664.6 M1158.9,1646.5L1165.3,1644.9L1170.2,1649.0L1167.0,1654.6L1160.5,1656.2L1158.1,1651.4L1158.9,1646.5 M1175.0,1638.5L1181.4,1640.1L1186.2,1646.5L1184.6,1651.4L1179.8,1649.8L1176.6,1644.9L1175.0,1638.5 M1062.6,1659.8L1069.0,1657.8L1074.1,1660.4 M1012.8,1653.4L1017.6,1654.6 M999.9,1661.0L1006.4,1657.8L1011.2,1661.0L1008.0,1665.8L1014.4,1669.4 M1001.5,1670.7L1006.4,1673.9L1003.1,1678.7 M1232.8,1725.4L1240.9,1721.3L1250.5,1718.9L1258.5,1720.5L1263.4,1725.4L1265.0,1730.2L1256.9,1731.8L1252.1,1736.6L1255.3,1741.4L1261.8,1746.3L1266.6,1752.7L1263.4,1759.1L1265.0,1767.2L1263.4,1775.2L1256.9,1776.8L1250.5,1775.2L1245.7,1773.6 M1232.8,1725.4L1237.7,1731.8L1244.1,1736.6L1247.3,1743.1 M1281.0,1735.0L1284.3,1728.6L1290.6,1725.4L1297.0,1727.0L1298.6,1733.4L1295.4,1739.0L1289.0,1741.4L1282.7,1739.8L1281.0,1735.0 M1255.3,1835.6L1252.1,1833.0L1245.7,1826.6L1239.3,1820.2L1234.4,1812.2L1239.3,1807.4L1245.7,1812.2L1252.1,1818.7L1260.2,1823.4L1269.8,1826.6L1279.4,1828.2L1289.0,1831.4L1301.2,1833.0 M1170.2,1823.4L1175.0,1829.8L1178.2,1835.6 M1176.6,1823.4L1183.0,1829.8L1186.2,1835.6 M979.9,1803.2L979.9,1809.8L975.2,1815.4L967.8,1820.1L962.2,1822.9L958.4,1828.5L954.6,1836.0L950.0,1843.5L946.2,1851.0L948.1,1860.4L950.0,1869.8L949.0,1879.2L945.3,1887.6L946.2,1896.1L948.1,1903.5L954.6,1909.1L960.3,1914.8L964.1,1920.4L963.1,1925.1L969.7,1930.7L977.1,1937.3L983.7,1942.9L988.4,1942.0L995.9,1938.3L1003.3,1936.9L1012.8,1939.2L1022.3,1933.6L1031.5,1930.7L1040.8,1930.7L1044.6,1933.6L1047.4,1941.1L1055.9,1941.1L1062.4,1942.0L1067.1,1948.5L1065.2,1956.1L1063.3,1965.0L1061.5,1971.1L1064.3,1976.7L1070.8,1982.3L1075.6,1988.9L1078.4,1997.3L1081.2,2006.6L1082.1,2016.1L1084.9,2023.5L1083.0,2029.2L1078.4,2033.0L1076.5,2040.4L1074.6,2048.0L1074.6,2057.3L1077.4,2064.9L1081.2,2072.3L1085.8,2079.8L1087.7,2089.2L1089.6,2098.6L1091.8,2108.4 M1172.0,1822.9L1175.8,1830.4L1179.5,1839.8L1185.1,1847.3L1188.8,1856.7L1188.8,1866.0L1194.5,1873.5L1198.3,1882.9L1205.7,1890.4L1211.3,1897.9L1217.0,1905.4L1220.8,1911.0 M1181.4,1822.9L1187.0,1830.4L1192.7,1837.9L1198.3,1845.4L1200.1,1854.7L1205.7,1862.3L1209.5,1871.6L1213.3,1879.2L1215.2,1890.4L1217.0,1899.8L1218.9,1907.3 M1218.9,1907.3L1224.5,1897.9L1231.9,1895.1L1239.5,1890.4L1248.8,1886.6L1258.2,1879.2L1267.6,1875.5L1276.9,1869.8L1282.5,1860.4L1286.3,1852.9L1291.2,1849.1 M1252.6,1841.7L1262.0,1839.8L1267.6,1834.1L1273.2,1828.5L1276.9,1834.1L1282.5,1839.8L1288.2,1845.4L1291.2,1849.1 M1267.6,1825.7L1275.1,1825.7L1280.7,1830.4L1288.2,1832.2L1291.2,1833.2 M1220.8,1911.0L1224.5,1907.3L1231.9,1905.4L1241.4,1903.5L1250.7,1901.7L1251.6,1909.1L1248.8,1918.6L1243.2,1929.8L1237.6,1939.2L1231.9,1946.6L1223.4,1956.1L1215.2,1963.5L1207.6,1971.1L1201.1,1978.6L1197.3,1987.9L1194.5,1995.5L1199.2,2001.1L1198.3,2010.5L1202.9,2017.9L1203.9,2029.2L1204.8,2038.6L1202.0,2046.1L1194.5,2051.7L1187.0,2056.4L1181.4,2062.9L1176.7,2068.6L1180.4,2074.2L1182.3,2083.5L1181.4,2091.1L1175.4,2095.2 M1162.6,2119.2L1153.3,2128.6L1144.0,2136.5 M1260.1,1900.2L1267.6,1900.9 M1082.1,1891.3L1089.6,1894.2L1091.8,1897.9L1086.8,1901.3L1082.5,1897.6L1080.6,1893.2L1082.1,1891.3 M1084.9,1894.2L1087.7,1897.9 M1151.4,1996.4L1157.0,2001.1L1159.8,2010.5 M1153.3,1996.4L1158.9,2002.9L1161.7,2010.5 M1173.9,2014.2L1175.8,2025.4L1178.6,2038.6 M1176.1,2014.6L1178.0,2025.4L1180.8,2038.6 M1241.4,2026.3L1245.1,2031.1L1247.9,2042.3L1245.1,2053.6L1241.4,2066.8L1237.6,2079.8L1233.8,2091.1L1226.3,2096.7L1219.8,2094.8L1216.1,2085.5L1215.2,2076.1L1218.9,2066.8L1217.0,2055.5L1219.8,2048.0L1226.3,2045.1L1231.9,2038.6L1235.7,2033.0L1241.4,2026.3 M1299.9,1568.7L1311.2,1567.8L1322.3,1566.8L1331.8,1567.8L1326.1,1571.6L1314.9,1573.5L1303.6,1575.3L1292.4,1578.1L1281.1,1581.9 M1281.1,1599.7L1288.7,1601.6L1298.0,1603.4L1307.4,1605.3L1318.6,1608.1L1327.9,1611.0L1331.8,1612.9L1327.9,1607.2L1322.3,1603.4L1319.5,1597.8L1324.2,1594.1L1329.9,1588.4L1335.5,1584.7L1341.1,1585.6L1343.0,1592.2L1345.8,1597.8L1348.6,1605.3L1352.4,1611.0L1356.1,1614.7L1350.4,1618.5L1343.0,1622.2L1336.4,1621.3 M1344.8,1590.4L1352.4,1590.4L1359.9,1588.4L1367.3,1590.4L1372.9,1596.0L1369.2,1599.7L1361.7,1598.8L1356.1,1603.4L1359.9,1609.1 M1343.0,1596.0L1350.4,1597.8L1355.2,1605.3 M1380.5,1584.7L1387.9,1590.4L1393.5,1594.1L1387.9,1588.4L1395.4,1584.7L1403.0,1583.7L1412.3,1582.8L1408.6,1579.1L1416.0,1576.3L1424.3,1574.4L1434.8,1572.5L1446.1,1570.6L1457.3,1568.7L1468.6,1567.8L1476.0,1565.9L1472.3,1562.2L1466.6,1558.5L1457.3,1555.7L1446.1,1553.8L1432.9,1552.9 M1464.7,1551.8L1477.9,1554.7L1487.2,1556.6L1492.9,1560.3L1491.1,1565.0L1498.5,1566.8L1509.7,1567.8L1521.0,1568.7L1530.3,1569.6L1532.2,1574.4L1524.7,1577.2L1515.4,1580.0L1506.0,1583.7L1496.7,1586.5L1506.0,1585.6L1517.3,1582.8L1528.5,1581.9L1539.8,1582.8L1543.5,1583.2 M1530.3,1572.5L1515.4,1578.1L1502.2,1583.7 M1468.6,1554.7L1479.8,1557.5L1487.2,1560.3 M1505.0,1684.1L1508.8,1679.9L1513.1,1677.5 M1506.9,1684.4L1511.2,1680.7L1514.7,1678.5 M1375.8,1722.1L1378.6,1723.5 M1560.4,1792.9L1564.1,1800.4L1567.8,1807.9L1568.8,1815.4L1566.0,1822.9L1562.3,1830.4L1556.6,1837.9L1551.0,1843.5L1543.5,1849.1L1534.1,1852.9L1524.7,1854.7L1515.4,1856.7L1506.0,1858.6L1498.5,1862.3L1493.9,1867.9L1496.7,1873.5 M1558.4,1851.0L1564.1,1843.5L1566.9,1849.1L1564.1,1860.4L1560.4,1862.3L1558.4,1851.0 M1281.1,1832.2L1290.5,1834.1L1299.9,1835.0L1311.2,1834.1L1320.5,1836.0L1324.2,1841.7L1329.9,1847.3L1335.5,1852.9L1339.2,1851.0L1343.0,1849.1L1346.7,1852.9L1345.8,1860.4L1346.7,1869.8L1347.6,1877.7 M1391.7,1879.2L1397.3,1871.6L1403.0,1866.0L1408.6,1860.4L1410.4,1854.7L1416.0,1851.0L1424.3,1852.9L1429.2,1849.1L1432.9,1851.0L1435.7,1858.6L1438.5,1864.2L1442.2,1871.6L1445.1,1879.6 M1542.3,1584.7L1548.7,1585.5L1555.1,1587.9L1563.2,1588.7L1569.6,1587.1L1571.2,1583.9L1579.2,1583.1L1587.3,1583.9L1595.3,1585.5L1601.7,1587.1L1602.5,1591.2L1598.5,1592.8L1601.7,1597.6L1606.5,1599.2L1611.4,1597.6L1614.6,1593.6L1619.4,1595.2L1625.4,1596.0L1632.3,1595.2L1640.2,1595.2L1646.6,1593.6L1649.8,1589.5L1654.7,1587.9L1661.1,1585.5L1669.1,1587.9L1678.8,1589.5L1690.0,1590.4L1693.2,1594.4L1701.3,1596.8L1709.3,1598.4L1718.9,1597.6L1728.6,1597.6L1735.0,1599.2L1736.6,1604.8L1744.6,1605.6L1754.3,1604.8L1763.9,1604.8L1772.0,1604.0L1776.8,1608.0L1783.2,1609.7L1786.4,1604.8L1792.9,1603.2L1802.5,1604.0L1812.1,1605.6L1821.8,1607.2L1828.1,1608.0 M1633.9,1574.3L1640.2,1571.1L1648.2,1571.9L1656.3,1570.2L1664.3,1571.9L1670.7,1574.3L1667.5,1577.5L1661.1,1579.1L1657.9,1583.9L1653.1,1587.1L1646.6,1582.3L1641.8,1579.1L1635.5,1577.5L1633.9,1574.3 M1638.6,1575.1L1648.2,1575.9L1657.9,1575.1L1665.9,1575.1 M1676.4,1575.1L1686.8,1574.3L1698.8,1576.7L1693.2,1579.9L1682.0,1579.1L1676.4,1575.1 M1680.4,1576.7L1693.2,1577.5 M1818.6,1598.4L1826.6,1599.2 M1813.7,1631.3L1825.0,1632.1 M1625.4,1679.5L1632.3,1675.5L1638.6,1670.7L1645.0,1665.8L1651.4,1661.0L1657.9,1657.8L1667.5,1657.0L1678.8,1656.2L1690.0,1654.6L1696.4,1657.8L1698.0,1661.0L1704.5,1659.4L1710.9,1657.8L1709.3,1653.8L1715.7,1648.2L1722.1,1644.9L1730.2,1644.9L1738.2,1645.7L1739.8,1649.8L1746.3,1644.9L1751.1,1640.9L1757.5,1640.1L1759.1,1643.3L1752.7,1648.2L1755.9,1653.8L1762.3,1654.6L1770.4,1653.0L1778.4,1652.2L1783.2,1655.4L1789.6,1651.4L1796.1,1646.5L1804.1,1643.3L1812.1,1640.9L1821.8,1639.3L1828.1,1638.5 M1739.8,1649.8L1735.0,1656.2L1728.6,1661.0L1722.1,1665.8L1717.3,1670.7L1715.7,1677.1L1717.3,1685.2L1718.9,1693.2L1720.5,1699.6L1715.7,1704.5L1714.1,1707.7L1718.9,1706.9L1725.4,1701.2L1730.2,1694.8L1735.0,1688.4L1738.2,1683.5L1744.6,1681.1L1746.3,1675.5L1751.1,1673.9L1751.1,1667.5L1747.9,1662.6L1749.5,1656.2L1752.7,1653.0 M1765.2,1680.0L1766.1,1681.0 M1794.8,1691.3L1796.1,1691.9 M1625.4,1679.5L1632.3,1684.3L1640.2,1685.2L1646.6,1687.6L1653.1,1691.6L1651.4,1698.0L1649.8,1704.5L1649.8,1710.9L1645.0,1717.3L1640.2,1722.1L1637.1,1727.0L1632.3,1732.8L1629.0,1738.2L1625.4,1741.4L1619.4,1741.4L1613.0,1739.8L1606.5,1743.1L1601.7,1747.9L1600.1,1754.3L1593.7,1757.5L1590.5,1760.7L1593.7,1767.2L1598.5,1772.0L1600.9,1776.8L1598.5,1784.9L1593.7,1786.5L1588.9,1788.1L1586.5,1781.7L1587.3,1775.2L1584.1,1770.4L1580.8,1765.6L1582.4,1760.7L1577.6,1758.3L1571.2,1760.7L1568.8,1755.9L1564.8,1752.7L1558.3,1755.9L1553.5,1759.1L1547.1,1762.4L1548.7,1768.0L1553.5,1772.0L1558.3,1770.4L1564.8,1768.8L1571.2,1772.0L1566.4,1775.2L1559.9,1776.8L1555.4,1781.7 M1629.0,1680.3L1637.1,1682.7L1632.3,1686.8L1629.0,1683.5 M1657.9,1683.5L1661.9,1682.7L1664.3,1691.6L1666.7,1702.8L1669.1,1710.9L1665.9,1712.5L1662.7,1706.1L1660.3,1698.0L1658.3,1691.6 M1657.1,1685.2L1655.5,1694.8L1654.7,1704.5L1654.7,1714.1L1656.3,1723.8L1657.1,1731.8L1656.7,1738.2L1660.3,1741.4L1661.9,1735.0L1660.3,1727.0L1664.3,1727.0L1661.9,1722.1L1658.7,1718.9 M1645.0,1743.1L1649.8,1738.2L1654.7,1736.6L1661.1,1741.4L1667.5,1739.8L1673.9,1743.1L1670.7,1746.3L1664.3,1747.9L1657.9,1748.7L1654.7,1744.7L1649.8,1747.9L1645.0,1743.1 M1667.5,1739.8L1675.5,1735.0L1683.6,1731.0L1691.6,1727.0L1696.4,1724.9 M1646.6,1749.5L1645.0,1755.9L1641.8,1764.0L1637.1,1770.4L1630.7,1775.2L1624.2,1780.1L1617.8,1783.3L1609.8,1786.5L1603.3,1791.3L1600.1,1797.7L1601.7,1804.2L1606.5,1805.8L1611.4,1799.4L1617.8,1796.1L1625.8,1793.7L1632.3,1791.3L1638.6,1788.1L1646.6,1786.5L1653.1,1783.3L1653.1,1775.2L1657.1,1767.2L1657.9,1759.1L1654.7,1749.5L1646.6,1749.5 M1603.3,1794.5L1609.8,1791.3L1617.8,1788.1L1622.6,1784.9 M1604.9,1799.4L1611.4,1794.5L1619.4,1791.3L1624.2,1788.1 M1600.5,1818.3L1601.5,1819.0 M1594.2,1827.9L1595.1,1828.6 M1430.6,1855.7L1437.0,1860.6L1441.8,1867.0L1444.2,1873.7 M1435.7,1894.4L1434.6,1900.8L1433.8,1905.9 M1437.6,1894.7L1436.3,1901.1L1435.7,1905.9 M1498.0,1855.7L1494.9,1860.6L1493.3,1865.4L1496.5,1870.2L1501.2,1875.1L1506.0,1879.9L1510.8,1886.3L1512.4,1894.4L1510.8,1902.4L1507.6,1907.2L1501.2,1910.4L1494.9,1913.7L1490.0,1918.8 M1507.6,1862.2L1514.0,1857.4L1520.5,1860.6L1518.9,1867.0L1512.4,1871.8L1506.8,1868.6L1507.6,1862.2 M1461.1,1921.7L1465.9,1928.1L1470.8,1936.2L1475.6,1944.2L1480.4,1952.2L1485.2,1958.6L1489.2,1957.8L1486.8,1950.6L1485.2,1942.6L1483.6,1936.2L1478.8,1931.3L1474.0,1926.5L1470.8,1921.7 M1447.5,1935.4L1454.7,1936.2L1461.1,1942.6L1467.5,1950.6L1472.4,1958.6L1477.2,1966.6L1483.6,1973.1L1490.0,1979.5L1494.9,1984.3L1496.5,1990.8L1493.3,1992.4L1488.4,1989.2L1482.0,1982.7L1475.6,1976.3L1469.2,1968.2L1464.3,1960.2L1459.5,1952.2L1453.1,1944.2L1447.5,1937.8L1447.5,1935.4 M1449.6,1950.2L1450.5,1951.3 M1456.0,1956.7L1456.9,1957.7 M1463.5,1970.7L1465.1,1972.3 M1498.0,1977.9L1500.0,1979.2 M1505.7,1979.5L1507.3,1980.5 M1496.5,1994.0L1504.4,1997.2L1514.0,1998.8L1523.7,2000.4L1533.3,2002.0L1543.0,2003.6L1551.0,2006.0L1555.8,2008.5L1552.6,2010.1L1543.0,2008.5L1533.3,2006.8L1523.7,2005.2L1514.0,2003.6L1504.4,2002.0L1498.0,1998.8L1496.5,1994.0 M1557.4,2008.5L1563.9,2006.8L1571.9,2008.5L1578.3,2010.1 M1552.6,2014.9L1562.3,2016.5 M1571.9,2014.9L1578.3,2011.7L1583.4,2009.3 M1507.6,1955.4L1514.0,1952.2L1520.5,1949.0L1526.9,1942.6L1533.3,1937.8L1539.8,1933.0L1544.6,1928.1L1549.4,1931.3L1554.2,1937.8L1551.0,1942.6L1547.8,1947.4L1549.4,1953.8L1551.0,1960.2L1546.2,1966.6L1543.0,1973.1L1541.4,1981.1L1534.9,1985.9L1528.5,1982.7L1520.5,1981.1L1515.7,1974.7L1514.0,1968.2L1510.8,1961.8L1507.6,1955.4 M1555.8,1960.2L1562.3,1957.0L1570.3,1958.6L1578.3,1956.2L1583.1,1957.0L1576.7,1961.8L1568.7,1963.4L1562.3,1965.0L1560.7,1971.5L1565.5,1976.3L1571.9,1981.1L1573.5,1989.2L1570.3,1992.4L1565.5,1987.5L1562.3,1982.7L1559.0,1989.2L1555.8,1994.0L1554.2,1987.5L1555.8,1979.5L1554.2,1971.5L1555.8,1960.2 M1558.2,1963.4L1558.2,1971.5L1560.7,1977.9L1559.8,1984.3 M1546.2,1920.1L1551.0,1916.9 M1567.1,1926.5L1571.9,1920.1L1578.3,1916.9L1584.8,1918.5L1588.0,1924.9L1586.4,1933.0L1579.9,1936.2L1575.1,1933.0L1570.3,1931.3L1567.1,1926.5 M1579.9,1923.3L1583.1,1926.5L1581.5,1930.5L1579.1,1927.3L1579.9,1923.3 M1591.2,1953.8L1594.4,1952.2L1596.8,1958.6L1596.0,1965.0L1592.8,1968.2L1591.2,1961.8L1591.2,1953.8 M1584.8,1982.7L1591.2,1981.1L1599.2,1981.9L1607.3,1982.7 M1578.0,1974.4L1579.3,1975.4 M1625.4,1979.5L1629.7,1974.7L1637.8,1971.5L1645.8,1973.1L1653.9,1976.3L1661.9,1979.5L1669.9,1982.7L1674.7,1987.5L1678.0,1992.4L1684.4,1994.0L1692.3,1992.4L1698.7,1989.2L1703.0,1989.2 M1610.5,1968.2L1618.5,1966.6L1624.9,1971.5L1623.3,1979.5L1616.9,1982.7L1612.1,1977.9L1610.5,1968.2 M1604.8,1963.1L1610.5,1966.6 M1618.5,1984.3L1625.4,1985.9L1629.7,1987.5L1636.2,1990.8L1641.0,1995.6L1639.4,2000.4L1636.2,2005.2L1642.6,2007.6L1647.4,2005.2L1653.9,2010.1L1660.3,2008.5L1666.7,2003.6L1673.1,2006.8L1678.0,2000.4L1681.2,1998.8L1684.4,2005.2L1689.1,2011.7L1693.9,2016.5L1696.3,2018.1 M1620.1,1995.6L1623.3,1992.4L1624.1,1998.8 M1678.3,1975.2L1679.6,1976.2 M1579.9,2047.1L1573.5,2050.3L1568.7,2055.1L1565.5,2061.5L1559.0,2066.4L1551.0,2068.0L1544.6,2069.6L1538.2,2072.8L1533.3,2077.6L1530.1,2082.7 M1536.5,2143.5L1543.0,2146.7L1549.4,2145.1L1555.8,2140.3L1563.9,2138.7L1571.9,2137.1L1576.7,2133.9L1583.1,2130.7L1589.1,2129.1 M1637.8,2048.7L1644.2,2051.9L1649.0,2056.7L1652.2,2053.5L1654.7,2045.4L1656.3,2035.8L1657.1,2026.1L1658.7,2019.7L1661.9,2026.1L1664.3,2034.2L1669.9,2039.0L1673.1,2047.1L1674.7,2055.1L1678.0,2061.5L1684.4,2064.8L1689.1,2071.2L1693.9,2077.6L1698.7,2084.1L1703.0,2090.5 M1642.6,2145.1L1647.4,2153.1 M1635.9,2151.5L1642.3,2148.8L1645.9,2154.2L1649.5,2159.8L1655.0,2163.4L1659.0,2165.2 M1702.9,2090.5L1704.2,2092.3L1707.8,2099.6L1709.6,2108.7L1709.6,2116.0L1707.8,2123.7 M1792.5,2141.5L1797.0,2144.3L1802.4,2148.8L1805.2,2156.0L1811.5,2159.8L1819.8,2158.8L1821.6,2163.4L1815.2,2167.0L1809.7,2172.5L1804.3,2177.9L1800.6,2181.6L1797.0,2177.9L1798.8,2172.5L1797.9,2167.0L1802.4,2163.4L1804.3,2157.9L1800.6,2152.4L1796.1,2147.0L1792.5,2141.5 M1793.4,2174.3L1797.0,2177.9L1800.6,2182.5L1795.2,2188.9L1789.7,2194.3L1786.0,2199.8L1780.6,2205.3L1773.3,2208.9L1766.9,2205.3L1765.1,2201.7L1769.7,2196.1L1775.2,2192.5L1780.6,2188.9L1786.0,2183.4L1790.6,2177.9L1793.4,2174.3 M1794.3,2143.4L1800.6,2150.6L1804.3,2156.9 M1502.1,2309.1L1509.3,2310.0L1514.9,2309.1L1518.5,2305.5L1525.8,2304.0L1533.0,2304.6L1538.5,2307.3L1547.6,2310.0L1556.7,2310.9L1564.0,2309.1L1569.5,2307.3L1574.9,2310.0L1582.1,2307.3L1587.7,2305.5L1593.1,2309.1L1600.4,2312.8L1603.1,2307.3L1611.3,2305.8L1625.5,2306.4L1636.8,2307.3L1647.7,2309.1L1658.7,2310.0L1667.7,2310.9L1669.5,2315.5L1676.9,2316.4L1682.3,2320.1L1689.6,2320.1L1696.8,2318.2L1704.2,2320.1L1711.4,2320.1L1716.9,2323.7L1726.0,2321.9L1735.1,2322.8L1742.3,2324.6L1744.1,2331.0L1751.5,2327.3L1760.6,2328.2L1769.7,2330.0L1778.8,2331.9L1785.1,2332.8L1786.0,2336.5L1780.6,2340.1L1773.3,2341.9L1767.8,2347.3L1760.6,2349.2L1753.3,2352.9L1748.8,2356.5L1749.7,2361.9L1754.2,2367.4L1756.9,2371.1L1749.7,2372.9L1742.3,2374.7L1736.9,2376.5 M1764.2,2364.7L1773.3,2363.8L1782.4,2365.2 M288.9,2373.8L295.5,2371.1L303.5,2373.2L308.8,2376.4 M311.6,2363.0L322.3,2361.7L332.9,2363.0L341.0,2365.7L351.7,2367.0L362.4,2365.7L370.4,2363.0L367.8,2357.7L357.1,2357.7L351.7,2360.3 M314.3,2365.7L324.9,2369.0L335.7,2367.0 M314.3,2368.3L324.9,2372.4L338.4,2376.4L351.7,2378.6 M351.7,2359.0L367.8,2356.3L383.9,2355.0L399.9,2352.3L418.9,2350.2L429.4,2351.0L440.0,2355.0L452.1,2357.7L457.5,2352.3L464.1,2348.2L472.1,2342.9L480.2,2345.6L490.9,2344.8L499.0,2346.9L496.3,2351.0L504.3,2353.7L515.0,2353.7L520.4,2349.7L517.6,2346.4L524.4,2346.4L531.1,2351.0L539.1,2352.3L549.8,2351.8L557.8,2349.7L571.2,2351.0L576.6,2349.7L571.2,2342.9L564.5,2340.3L571.2,2336.3L581.9,2336.3L592.7,2337.6L595.3,2342.9L587.2,2344.2L598.0,2341.1 M567.2,2338.9L579.2,2340.3L590.0,2341.1 M999.8,2329.7L1005.9,2328.8L1011.7,2326.5L1017.4,2331.8L1022.3,2333.5L1031.9,2331.8L1040.5,2327.4L1055.0,2325.9L1072.3,2325.9L1089.7,2326.5L1107.1,2327.4L1124.4,2329.4L1141.7,2326.5L1159.1,2324.5L1170.7,2323.0L1175.0,2318.7L1185.1,2323.0L1195.3,2325.9L1201.0,2320.2L1211.1,2315.8L1223.3,2314.4L1234.2,2313.8L1245.8,2313.8L1248.7,2308.5L1257.3,2305.1L1270.4,2305.7 M1331.1,2315.8L1332.6,2324.5L1338.3,2328.8 M1399.1,2310.0L1413.5,2309.1L1424.5,2309.1L1436.6,2308.5L1451.1,2308.5L1468.5,2307.1L1480.0,2303.4L1491.6,2305.7L1502.0,2309.1 M307.4,1850.7L308.9,1851.7 M315.6,1855.4L320.0,1857.3L324.1,1859.8L328.0,1862.8L330.5,1866.1L326.3,1868.3L325.0,1864.3 M354.3,2056.4L355.3,2057.2 M233.2,2191.7L234.2,2192.5 M1330.4,2219.2L1335.9,2219.7L1337.9,2222.2L1332.4,2223.2L1330.4,2219.2 M598.2,1556.2L604.6,1558.3L611.0,1562.6L619.6,1561.5L628.2,1554.1L636.8,1551.8L644.2,1556.2L641.0,1562.6L634.5,1566.9L643.2,1569.0L653.8,1567.9L662.5,1570.1L667.8,1574.4L664.6,1579.7L656.0,1576.5L645.3,1575.5L634.5,1576.5L626.0,1577.6L617.5,1575.5L608.9,1572.3L602.5,1574.4L598.2,1575.5 M598.2,1582.9L606.7,1585.1L615.4,1584.0L623.9,1587.2L633.5,1586.1L643.2,1587.2L653.8,1586.1L662.5,1582.9L673.1,1582.9L681.8,1585.1L686.0,1589.3L679.5,1591.6L671.0,1590.5L662.5,1592.6L653.8,1590.5L645.3,1593.7L638.9,1595.8L633.5,1591.6L626.0,1590.5L619.6,1593.7L611.0,1591.6L604.6,1593.7L598.2,1595.8 M598.2,1564.7L606.7,1566.9L615.4,1569.0L626.0,1571.2L636.8,1572.3L647.4,1572.3L658.2,1573.3 M630.3,1557.3L637.8,1559.4L634.5,1563.7 M602.5,1600.1L608.9,1604.4L615.4,1608.6L622.8,1608.6 M598.2,1606.5L601.4,1610.9L599.3,1615.1 M666.7,1565.8L673.1,1563.7L679.5,1561.5L686.0,1556.2L694.5,1553.0L703.1,1554.1L711.7,1556.2L721.3,1555.1L732.1,1553.0 M694.5,1561.5L700.9,1564.7L706.4,1567.9L713.8,1571.2L718.1,1567.9L716.0,1563.7L709.6,1561.5L703.1,1560.5L694.5,1561.5 M778.1,1600.1L780.2,1593.7L786.6,1593.7L793.0,1595.8L796.2,1601.2L795.2,1606.5L790.9,1609.8L784.5,1608.6L778.1,1604.4L778.1,1600.1 M622.8,1590.5L630.3,1595.8L638.9,1600.1L647.4,1601.7L658.2,1602.2L667.8,1603.3L673.1,1601.2L679.5,1603.3L686.0,1606.5L692.4,1609.8L697.7,1611.9L700.9,1616.2L698.8,1620.5L694.5,1623.7L688.2,1624.7L679.5,1625.8L673.1,1626.9L669.9,1630.2L673.1,1634.4L679.5,1634.4L687.1,1632.3L694.5,1632.3L700.9,1634.4L705.3,1637.6L711.7,1638.7L718.1,1642.9L724.5,1646.1L727.8,1642.9L728.9,1637.6L734.2,1634.4L736.3,1631.2L732.1,1629.1L726.6,1624.7L723.4,1620.5L731.0,1622.6L736.3,1624.7L742.7,1623.7L748.1,1620.5L750.2,1619.4L742.7,1617.3L735.3,1614.1L726.6,1611.9L719.2,1609.8L716.0,1606.5L721.3,1602.2L716.0,1599.0L707.4,1595.8L698.8,1593.7L691.4,1591.6L686.0,1588.3 M676.3,1613.0L681.8,1610.9L688.2,1613.0L692.4,1615.1L689.2,1618.3L682.8,1619.4L677.4,1617.3L676.3,1613.0 M678.5,1614.6L683.9,1614.1L688.2,1615.7L683.9,1617.3L678.5,1614.6 M719.2,1621.5L726.6,1620.5L732.1,1624.7L728.9,1627.9L722.4,1626.9L719.2,1621.5 M721.3,1623.1L727.8,1624.2 M712.8,1633.4L719.2,1634.4L726.6,1636.5L723.4,1641.9L717.0,1640.8L712.8,1636.5L712.8,1633.4 M714.9,1635.5L721.3,1637.6L719.2,1639.7 M622.8,1608.6L628.2,1606.5L634.5,1608.6L638.9,1614.1L635.7,1618.3L638.9,1623.7L643.2,1627.9L647.4,1631.2L653.8,1633.4L660.3,1634.4L664.6,1635.5L662.5,1639.7L656.0,1642.9L649.6,1644.0L647.4,1640.8L651.7,1638.7L644.2,1636.5L637.8,1638.7L633.5,1635.5L631.3,1630.2L633.5,1624.7L629.2,1620.5L626.0,1615.1L622.8,1608.6 M641.0,1608.6L648.5,1607.6L652.8,1610.9L651.7,1616.2L646.4,1619.4L641.0,1617.3L641.0,1608.6 M640.0,1629.1L643.2,1627.4L646.4,1631.2L642.1,1634.4L640.0,1629.1 M662.5,1642.9L667.8,1641.9L671.0,1645.1L666.7,1648.4L662.5,1646.1L662.5,1642.9 M653.8,1604.4L658.2,1609.8L660.3,1615.1L658.2,1621.5L653.8,1624.7 M1677.4,1975.4L1680.6,1976.3 M1695.1,1979.0L1699.1,1978.1L1702.9,1981.7L1706.5,1985.4L1707.4,1989.1L1703.8,1992.7L1699.1,1995.4L1693.7,1996.8L1688.3,1995.9L1684.6,1993.6 M1697.3,1980.4L1702.0,1983.6L1704.7,1987.2L1702.9,1990.9L1699.1,1993.6L1693.7,1995.0 M1712.4,1991.8L1715.6,1995.4L1719.2,1998.2L1722.9,2000.9L1725.6,2004.5L1724.7,2009.1L1728.3,2008.2L1731.1,2004.5L1734.7,2006.3L1739.2,2009.1L1742.8,2011.8L1741.0,2015.5L1735.6,2014.6L1733.8,2011.8L1738.3,2017.3L1742.8,2020.0L1748.4,2020.0 M1713.7,1993.6L1717.4,1997.2L1721.9,2000.9L1725.6,2006.3 M1732.9,2008.2L1737.4,2010.9L1741.0,2013.7 M1765.1,2040.0L1768.3,2040.9L1771.1,2044.6L1773.1,2047.6 M1766.1,2041.4L1769.3,2044.1L1771.6,2046.9 M1027.2,1776.1L1033.7,1775.5L1040.1,1775.0L1046.5,1775.5L1054.1,1774.5L1061.5,1773.4L1066.9,1771.8L1071.1,1773.9L1070.1,1779.3L1071.6,1783.6L1067.9,1786.8L1066.3,1790.0L1071.1,1793.2L1077.6,1794.8L1085.1,1795.9L1090.4,1799.7L1091.5,1802.9L1098.0,1804.5L1103.3,1807.2L1107.6,1809.3L1111.3,1806.1L1111.8,1800.8L1115.0,1796.4L1120.4,1795.4L1125.8,1795.9L1129.0,1798.6L1134.3,1800.3L1139.6,1801.9L1145.1,1804.0L1148.5,1805.3 M1057.3,1757.8L1059.4,1762.2L1064.7,1763.3L1065.8,1760.0L1065.3,1757.3 M1076.5,1767.5L1082.9,1767.0L1088.3,1768.6L1091.5,1770.7L1090.4,1775.0L1086.1,1776.1L1080.8,1773.4L1076.5,1770.7L1076.5,1767.5 M1078.7,1769.1L1085.1,1770.7L1088.8,1772.9 M1095.7,1748.2L1100.1,1751.4L1104.4,1754.6L1107.6,1757.8L1105.4,1760.0L1101.2,1761.1L1098.0,1765.4L1094.7,1768.6L1091.5,1765.4L1088.3,1762.2L1086.1,1758.9L1088.3,1756.8L1092.5,1757.8L1095.7,1755.7L1093.6,1751.4 M1098.0,1753.6L1102.2,1757.3L1098.5,1761.1L1095.2,1764.9 M1090.4,1758.9L1093.6,1761.1L1095.7,1763.3 M1106.5,1747.2L1110.8,1750.4L1112.9,1755.7L1116.1,1761.1L1117.2,1766.5L1119.3,1771.8L1122.6,1776.1L1126.9,1778.2L1129.0,1775.0L1131.1,1770.7L1132.2,1766.5L1129.0,1763.3L1125.8,1760.0L1122.6,1757.8L1121.5,1754.6L1125.8,1752.5L1131.1,1752.0L1136.4,1752.5L1139.6,1755.7L1137.5,1760.0L1136.4,1764.3L1138.6,1767.5L1140.7,1770.7L1144.0,1775.0L1147.2,1778.2L1149.6,1779.5 M1118.2,1765.4L1122.6,1768.6L1125.8,1772.9L1127.9,1776.1 M1120.4,1762.2L1124.7,1765.4L1129.0,1768.6 M1121.5,1770.7L1124.7,1775.0 M1125.8,1782.0L1131.1,1781.0L1136.4,1782.0L1140.7,1783.6L1139.6,1786.3L1133.3,1785.8L1126.9,1784.7L1125.8,1782.0 M1127.9,1783.4L1138.6,1784.7 M1144.5,1744.0L1146.1,1739.6L1150.4,1735.4L1153.6,1730.0L1157.9,1724.7L1162.1,1723.1L1167.6,1724.2L1172.9,1725.8L1178.2,1723.6L1183.6,1721.4L1190.1,1719.8L1196.5,1719.3L1199.6,1721.4L1197.5,1724.7L1193.3,1725.8L1187.8,1726.8L1182.5,1729.0L1179.3,1732.2L1175.0,1736.4L1171.8,1737.5L1168.6,1734.3L1164.3,1730.0L1162.1,1727.9L1157.9,1731.1L1154.7,1735.4L1151.5,1739.6L1150.4,1744.0L1151.5,1748.2L1155.7,1749.3L1161.1,1748.2L1166.4,1746.1L1171.8,1745.1L1177.2,1746.1L1182.5,1747.7L1188.0,1749.3 M1144.5,1744.0L1142.8,1748.2L1140.7,1751.4L1142.8,1753.6L1147.2,1752.5L1151.5,1751.4L1155.7,1754.6L1153.6,1756.8 M1139.6,1755.7L1144.0,1758.9L1147.2,1762.2L1149.3,1766.5" fill="none" stroke="#000" stroke-width="5.5" stroke-linejoin="round" stroke-linecap="round"/>
<path d="M218.00,1551.00 V2374.50 M419.06,1551.00 V2374.50 M620.12,1551.00 V2374.50 M821.19,1551.00 V2374.50 M1022.25,1551.00 V2374.50 M1223.31,1551.00 V2374.50 M1424.38,1551.00 V2374.50 M1625.44,1551.00 V2374.50 M1826.50,1551.00 V2374.50" fill="none" stroke="#bfbfbf" stroke-width="5.2" stroke-dasharray="5.2 11.4"/>
<path d="M216.70,2197.31 H1823.00 M216.70,1965.00 H1823.00 M216.70,1732.69 H1823.00" fill="none" stroke="#bfbfbf" stroke-width="5.2" stroke-dasharray="5.2 11.4"/>
<circle cx="508.7" cy="1640.4" r="29.9" fill="#24c1ae"/>
<circle cx="485.4" cy="1714.4" r="29.9" fill="#72cd64"/>
<circle cx="492.2" cy="1786.2" r="29.9" fill="#37c897"/>
<circle cx="553.3" cy="1762.2" r="29.9" fill="#37c897"/>
<circle cx="675.5" cy="1762.7" r="31.2" fill="#3fca8e"/>
<circle cx="675.5" cy="1762.7" r="29.9" fill="#3fca8e"/>
<circle cx="784.8" cy="1716.7" r="29.9" fill="#31c69f"/>
<circle cx="689.0" cy="1938.6" r="29.9" fill="#febe3c"/>
<circle cx="784.8" cy="1936.7" r="29.9" fill="#9dc943"/>
<circle cx="700.6" cy="2047.5" r="29.9" fill="#8fcb4e"/>
<circle cx="819.0" cy="2079.6" r="29.9" fill="#b9c431"/>
<circle cx="761.6" cy="2229.7" r="29.9" fill="#8fcb4e"/>
<circle cx="237.8" cy="2071.8" r="29.9" fill="#c5c22a"/>
<circle cx="1129.2" cy="1651.6" r="29.9" fill="#08b5d0"/>
<circle cx="1138.0" cy="1614.4" r="29.9" fill="#24c1ae"/>
<circle cx="1079.7" cy="1692.7" r="29.9" fill="#3fca8e"/>
<circle cx="1114.4" cy="1693.4" r="29.9" fill="#02bac3"/>
<circle cx="1086.3" cy="1705.0" r="29.9" fill="#18addb"/>
<circle cx="1049.9" cy="1690.1" r="29.9" fill="#23a0e5"/>
<circle cx="1072.5" cy="1727.8" r="29.9" fill="#01b8ca"/>
<circle cx="1021.8" cy="1700.2" r="29.9" fill="#08b5d0"/>
<circle cx="1089.3" cy="1720.0" r="29.9" fill="#02bac3"/>
<circle cx="992.5" cy="1774.2" r="29.9" fill="#01b8ca"/>
<circle cx="1026.8" cy="1738.1" r="29.9" fill="#01b8ca"/>
<circle cx="1217.1" cy="1754.7" r="29.9" fill="#9dc943"/>
<circle cx="1176.9" cy="1793.3" r="29.9" fill="#fad62d"/>
<circle cx="1354.2" cy="1742.3" r="29.9" fill="#0bbdbd"/>
<circle cx="1411.6" cy="1736.4" r="29.9" fill="#02bac3"/>
<circle cx="1498.3" cy="1715.7" r="29.9" fill="#37c897"/>
<circle cx="1531.0" cy="1805.1" r="29.9" fill="#abc739"/>
<circle cx="1469.4" cy="1891.8" r="29.9" fill="#19bfb6"/>
<circle cx="1561.1" cy="1887.6" r="29.9" fill="#8fcb4e"/>
<circle cx="1376.9" cy="1927.2" r="29.9" fill="#08b5d0"/>
<circle cx="1366.6" cy="1896.1" r="29.9" fill="#4acb84"/>
<circle cx="994.4" cy="2044.9" r="29.9" fill="#64cd6f"/>
<circle cx="1157.6" cy="1966.0" r="29.9" fill="#b9c431"/>
<circle cx="1113.0" cy="2130.0" r="29.9" fill="#d1bf27"/>
<circle cx="1144.1" cy="2096.3" r="29.9" fill="#f5e327"/>
<circle cx="1277.1" cy="2067.9" r="29.9" fill="#b9c431"/>
<circle cx="1343.4" cy="2000.3" r="29.9" fill="#57cc7a"/>
<circle cx="1727.0" cy="1927.0" r="29.9" fill="#57cc7a"/>
<circle cx="1610.7" cy="2036.8" r="29.9" fill="#31c69f"/>
<circle cx="1606.0" cy="2029.9" r="29.9" fill="#57cc7a"/>
<circle cx="1535.3" cy="2113.3" r="29.9" fill="#c5c22a"/>
<circle cx="1618.2" cy="2127.2" r="29.9" fill="#f8ba3d"/>
<circle cx="1685.7" cy="2145.0" r="29.9" fill="#d1bf27"/>
<circle cx="1679.3" cy="2183.6" r="29.9" fill="#64cd6f"/>
<circle cx="1813.0" cy="2053.9" r="29.9" fill="#9dc943"/>
<circle cx="1764.0" cy="2077.8" r="29.9" fill="#e6bb2d"/>
<circle cx="1301.1" cy="2312.2" r="29.9" fill="#19bfb6"/>
<circle cx="1368.6" cy="2317.0" r="29.9" fill="#24c1ae"/>
<text font-weight="bold" fill="#262626" font-size="67.00"><tspan x="12.02" y="1640.80">70</tspan><tspan x="87.91" y="1613.42" font-size="60.00">°</tspan><tspan x="113.71" y="1640.80"> N</tspan></text>
<text font-weight="bold" fill="#262626" font-size="67.00"><tspan x="12.84" y="1743.66">50</tspan><tspan x="88.73" y="1716.28" font-size="60.00">°</tspan><tspan x="114.53" y="1743.66"> N</tspan></text>
<text font-weight="bold" fill="#262626" font-size="67.00"><tspan x="13.36" y="1846.51">30</tspan><tspan x="89.25" y="1819.13" font-size="60.00">°</tspan><tspan x="115.05" y="1846.51"> N</tspan></text>
<text font-weight="bold" fill="#262626" font-size="67.00"><tspan x="13.18" y="1949.37">10</tspan><tspan x="89.07" y="1921.99" font-size="60.00">°</tspan><tspan x="114.87" y="1949.37"> N</tspan></text>
<text font-weight="bold" fill="#262626" font-size="67.00"><tspan x="13.18" y="2052.23">10</tspan><tspan x="89.07" y="2024.85" font-size="60.00">°</tspan><tspan x="114.87" y="2052.23"> S</tspan></text>
<text font-weight="bold" fill="#262626" font-size="67.00"><tspan x="13.36" y="2155.09">30</tspan><tspan x="89.25" y="2127.71" font-size="60.00">°</tspan><tspan x="115.05" y="2155.09"> S</tspan></text>
<text font-weight="bold" fill="#262626" font-size="67.00"><tspan x="12.84" y="2257.94">50</tspan><tspan x="88.73" y="2230.56" font-size="60.00">°</tspan><tspan x="114.53" y="2257.94"> S</tspan></text>
<text font-weight="bold" fill="#262626" font-size="67.00"><tspan x="12.02" y="2360.80">70</tspan><tspan x="87.91" y="2333.42" font-size="60.00">°</tspan><tspan x="113.71" y="2360.80"> S</tspan></text>
<text font-weight="bold" fill="#262626" font-size="67.00"><tspan x="117.98" y="2494.90">180</tspan><tspan x="231.13" y="2467.52" font-size="60.00">°</tspan><tspan x="256.93" y="2494.90"> W</tspan></text>
<text font-weight="bold" fill="#262626" font-size="67.00"><tspan x="383.86" y="2494.90">120</tspan><tspan x="497.01" y="2467.52" font-size="60.00">°</tspan><tspan x="522.81" y="2494.90"> W</tspan></text>
<text font-weight="bold" fill="#262626" font-size="67.00"><tspan x="679.21" y="2494.90">60</tspan><tspan x="755.10" y="2467.52" font-size="60.00">°</tspan><tspan x="780.90" y="2494.90"> W</tspan></text>
<text font-weight="bold" fill="#262626" font-size="67.00"><tspan x="1015.10" y="2494.90">0</tspan><tspan x="1053.73" y="2467.52" font-size="60.00">°</tspan></text>
<text font-weight="bold" fill="#262626" font-size="67.00"><tspan x="1221.88" y="2494.90">60</tspan><tspan x="1297.77" y="2467.52" font-size="60.00">°</tspan><tspan x="1323.57" y="2494.90"> E</tspan></text>
<text font-weight="bold" fill="#262626" font-size="67.00"><tspan x="1464.30" y="2494.90">120</tspan><tspan x="1577.45" y="2467.52" font-size="60.00">°</tspan><tspan x="1603.25" y="2494.90"> E</tspan></text>
<text font-weight="bold" fill="#262626" font-size="67.00"><tspan x="1730.88" y="2494.90">180</tspan><tspan x="1844.03" y="2467.52" font-size="60.00">°</tspan><tspan x="1869.83" y="2494.90"> E</tspan></text>
</g>
<text transform="translate(116.76,116.00) scale(0.9989,1.0340)" font-size="108.33" font-weight="bold" fill="#000">Horizontal Positioning RMS of BDS</text>
<text transform="translate(183.96,1460.00) scale(1.0034,1.0340)" font-size="108.33" font-weight="bold" fill="#000">Vertical Positioning RMS of BDS</text>
<g id="cbar1">
<rect x="2045.90" y="156.80" width="170.60" height="923.10" fill="url(#pg0)" stroke="#262626" stroke-width="5.2"/>
<text x="2249.5" y="1115.10" font-size="93.00" fill="#262626">0</text>
<path d="M2216.50,849.12 H2204.00" stroke="#262626" stroke-width="4.4" fill="none"/>
<text x="2249.5" y="884.33" font-size="93.00" fill="#262626">0.5</text>
<path d="M2216.50,618.35 H2204.00" stroke="#262626" stroke-width="4.4" fill="none"/>
<text x="2249.5" y="653.55" font-size="93.00" fill="#262626">1</text>
<path d="M2216.50,387.58 H2204.00" stroke="#262626" stroke-width="4.4" fill="none"/>
<text x="2249.5" y="422.78" font-size="93.00" fill="#262626">1.5</text>
<text x="2249.5" y="192.00" font-size="93.00" fill="#262626">2</text>
<text transform="translate(2090.39,103.10) scale(1.0220,1.0000)" font-size="93.00" font-weight="normal" fill="#000">m</text>
</g>
<g id="cbar2">
<rect x="2045.90" y="1500.70" width="170.60" height="926.80" fill="url(#pg1)" stroke="#262626" stroke-width="5.2"/>
<text x="2249.5" y="2462.70" font-size="93.00" fill="#262626">0</text>
<path d="M2216.50,2162.70 H2204.00" stroke="#262626" stroke-width="4.4" fill="none"/>
<text x="2249.5" y="2197.90" font-size="93.00" fill="#262626">1</text>
<path d="M2216.50,1897.90 H2204.00" stroke="#262626" stroke-width="4.4" fill="none"/>
<text x="2249.5" y="1933.10" font-size="93.00" fill="#262626">2</text>
<path d="M2216.50,1633.10 H2204.00" stroke="#262626" stroke-width="4.4" fill="none"/>
<text x="2249.5" y="1668.30" font-size="93.00" fill="#262626">3</text>
<text transform="translate(2090.39,1447.00) scale(1.0220,1.0000)" font-size="93.00" font-weight="normal" fill="#000">m</text>
</g>
</svg></body></html>
